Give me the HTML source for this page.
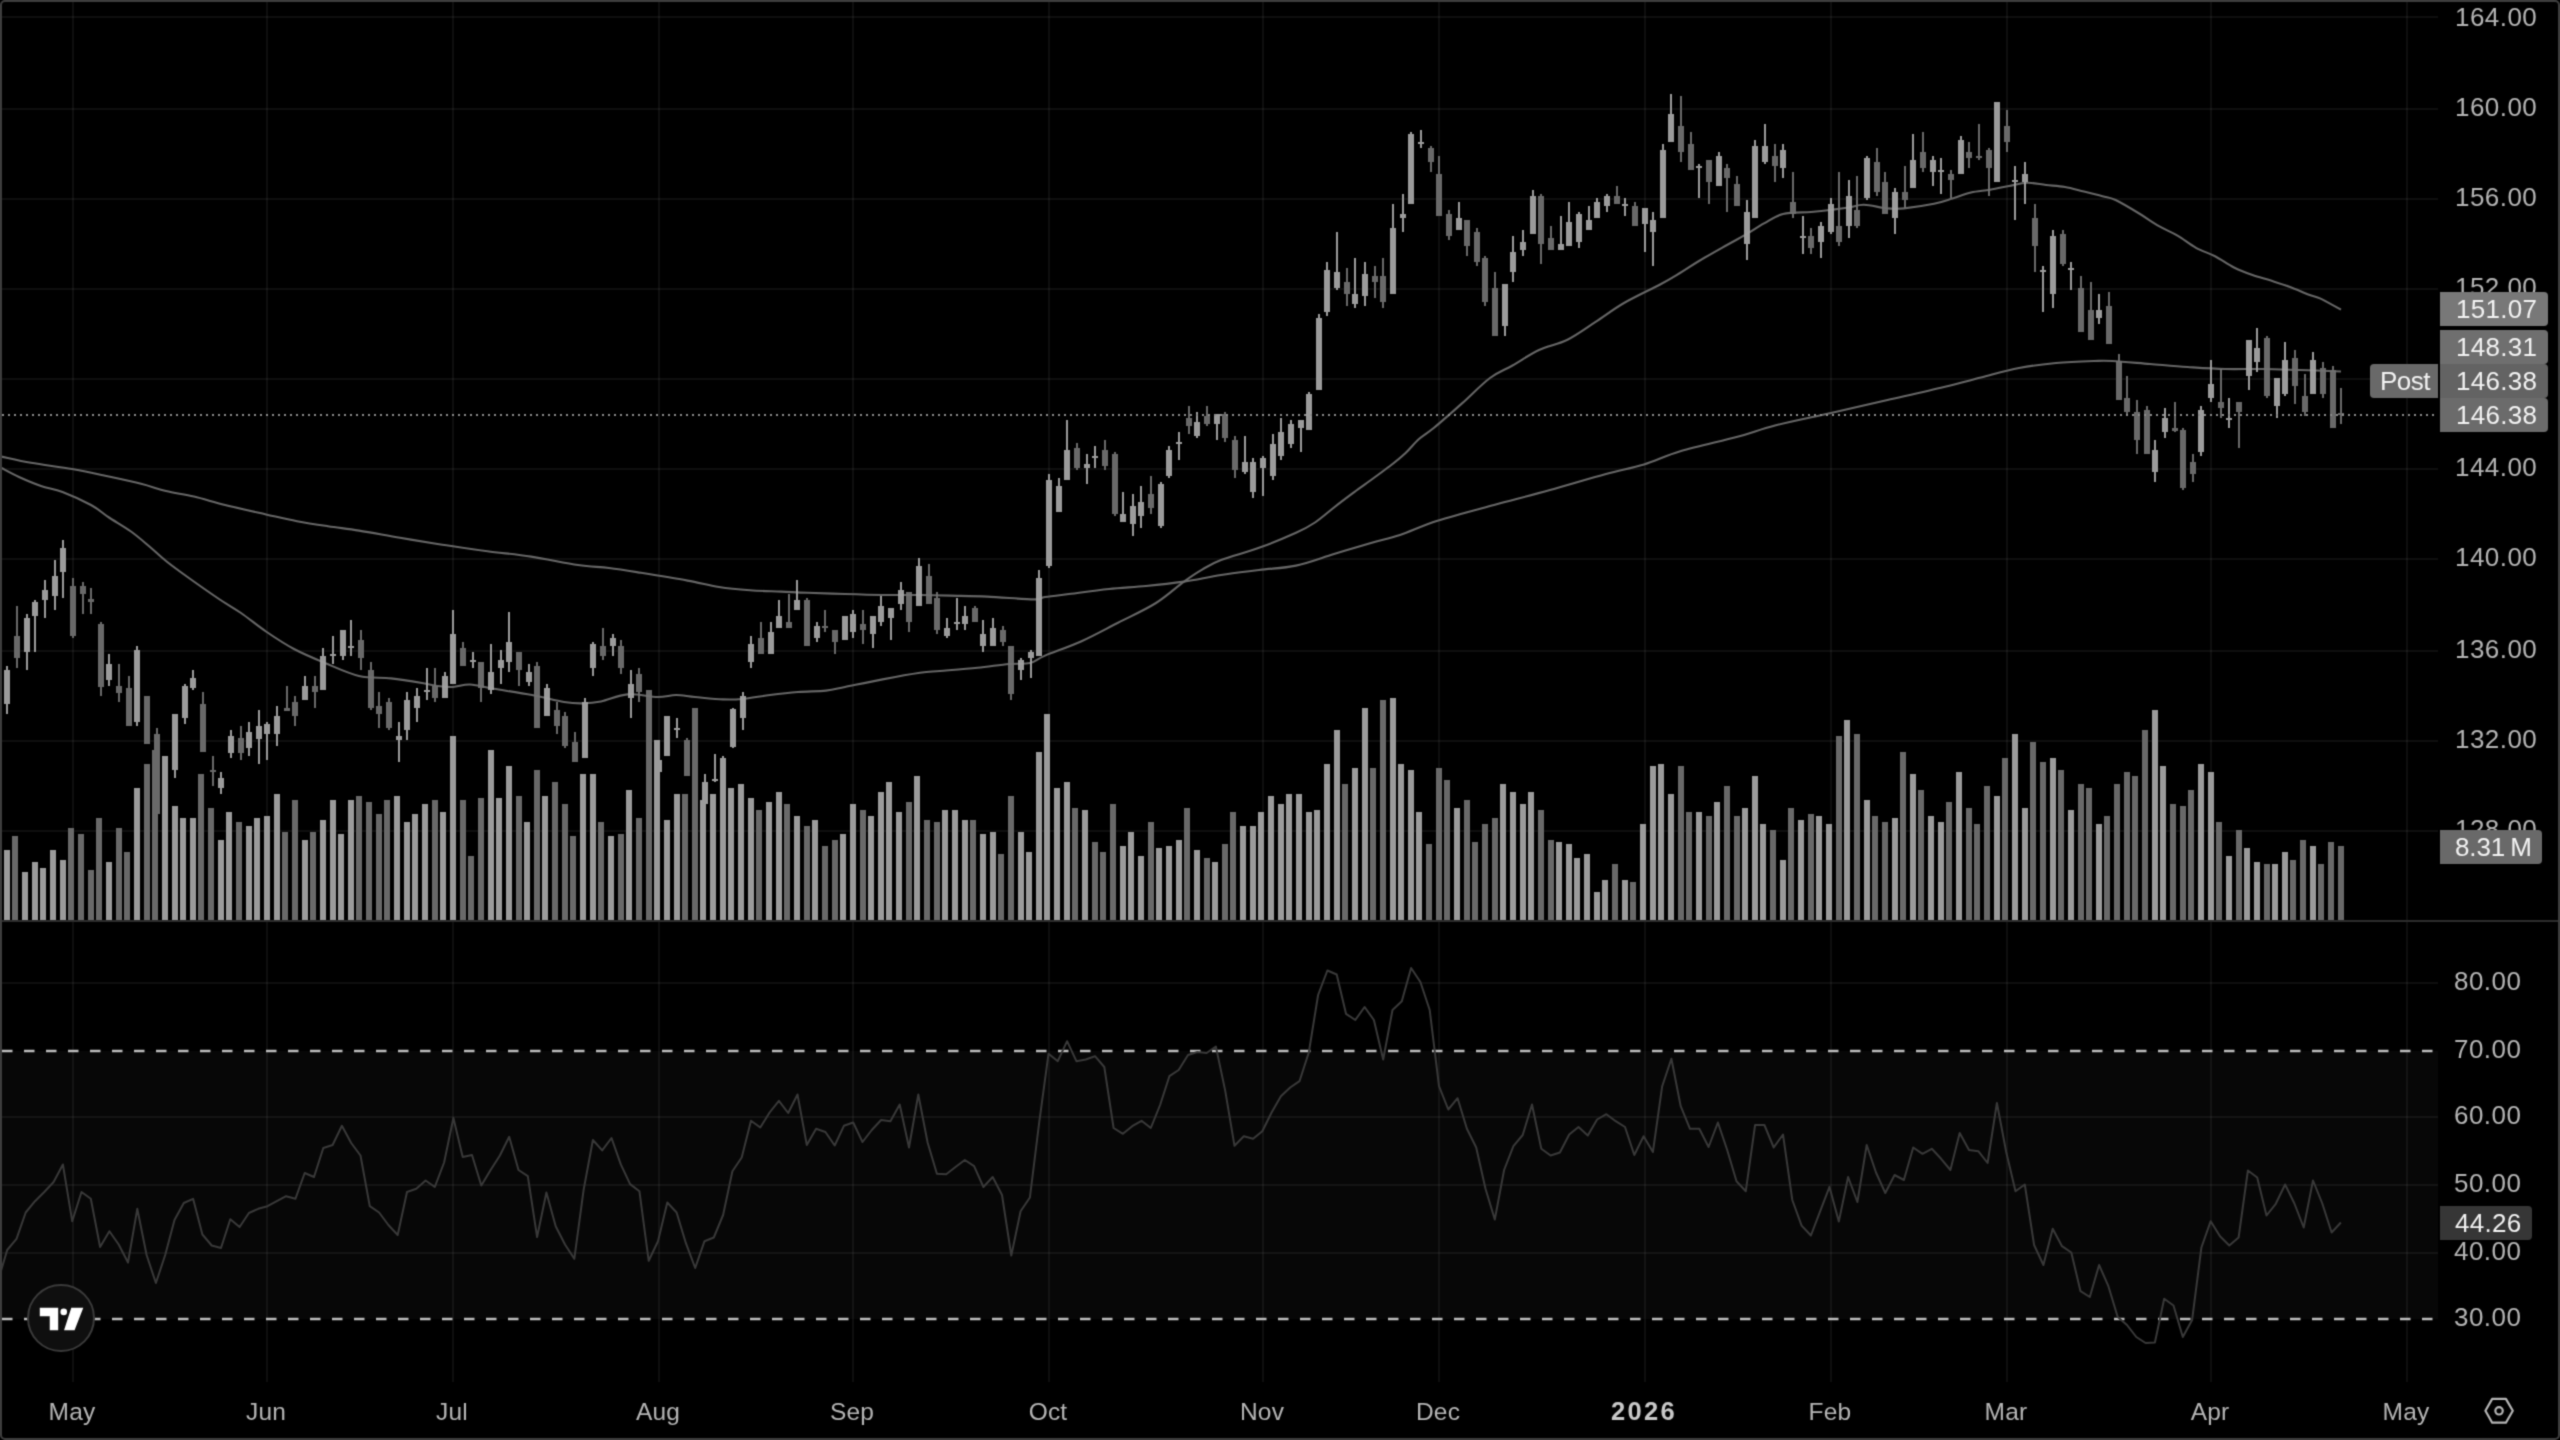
<!DOCTYPE html><html><head><meta charset="utf-8"><style>html,body{margin:0;padding:0;background:#000;width:2560px;height:1440px;overflow:hidden}</style></head><body><svg width="2560" height="1440" viewBox="0 0 2560 1440" style="position:absolute;left:0;top:0;will-change:transform">
<defs><filter id="bl" color-interpolation-filters="sRGB" filterUnits="userSpaceOnUse" x="0" y="0" width="2560" height="1440"><feConvolveMatrix order="3" kernelMatrix="0.0277 0.111 0.0277 0.111 0.445 0.111 0.0277 0.111 0.0277" divisor="1" edgeMode="duplicate" preserveAlpha="false"/></filter></defs>
<rect x="0" y="0" width="2560" height="1440" fill="#000"/>
<g filter="url(#bl)">
<rect x="2" y="1051.0" width="2436" height="268.0" fill="#070707"/>
<g fill="#fff" fill-opacity="0.056" shape-rendering="crispEdges">
<rect x="72" y="2" width="2" height="1380"/>
<rect x="266" y="2" width="2" height="1380"/>
<rect x="452" y="2" width="2" height="1380"/>
<rect x="658" y="2" width="2" height="1380"/>
<rect x="852" y="2" width="2" height="1380"/>
<rect x="1048" y="2" width="2" height="1380"/>
<rect x="1262" y="2" width="2" height="1380"/>
<rect x="1438" y="2" width="2" height="1380"/>
<rect x="1644" y="2" width="2" height="1380"/>
<rect x="1830" y="2" width="2" height="1380"/>
<rect x="2006" y="2" width="2" height="1380"/>
<rect x="2210" y="2" width="2" height="1380"/>
<rect x="2406" y="2" width="2" height="1380"/>
<rect x="2" y="830" width="2436" height="2"/>
<rect x="2" y="740" width="2436" height="2"/>
<rect x="2" y="650" width="2436" height="2"/>
<rect x="2" y="558" width="2436" height="2"/>
<rect x="2" y="468" width="2436" height="2"/>
<rect x="2" y="378" width="2436" height="2"/>
<rect x="2" y="288" width="2436" height="2"/>
<rect x="2" y="198" width="2436" height="2"/>
<rect x="2" y="108" width="2436" height="2"/>
<rect x="2" y="16" width="2436" height="2"/>
<rect x="2" y="982" width="2436" height="2"/>
<rect x="2" y="1116" width="2436" height="2"/>
<rect x="2" y="1184" width="2436" height="2"/>
<rect x="2" y="1252" width="2436" height="2"/>
</g>
<path d="M1.5,456.6 C6.4,457.6 19.2,460.7 31.0,462.8 C42.8,464.9 60.0,466.9 72.0,469.0 C84.0,471.1 91.5,472.8 103.0,475.3 C114.5,477.8 130.5,481.1 141.0,483.8 C151.5,486.4 157.2,488.9 166.0,491.0 C174.8,493.1 184.2,494.3 194.0,496.6 C203.8,498.9 213.0,502.0 225.0,505.0 C237.0,508.0 254.0,511.7 266.0,514.4 C278.0,517.1 286.7,519.3 297.0,521.2 C307.3,523.2 317.7,524.7 328.0,526.2 C338.3,527.8 347.0,528.7 359.0,530.6 C371.0,532.5 386.9,535.6 400.0,537.8 C413.1,540.0 428.7,542.6 437.5,544.0 C446.3,545.4 444.7,545.0 453.0,546.2 C461.3,547.5 474.5,549.5 487.5,551.2 C500.5,553.0 515.9,554.3 531.0,556.6 C546.1,558.9 565.0,563.1 578.0,565.0 C591.0,566.9 598.5,566.7 609.0,568.0 C619.5,569.3 627.9,570.7 641.0,572.8 C654.1,574.9 674.5,578.2 687.5,580.6 C700.5,583.0 708.6,585.4 719.0,587.0 C729.4,588.6 739.7,589.5 750.0,590.3 C760.3,591.1 771.4,591.2 781.0,591.6 C790.6,592.0 796.8,592.4 807.5,592.8 C818.2,593.1 832.5,593.6 845.0,594.0 C857.5,594.4 870.0,594.8 882.5,595.0 C895.0,595.2 908.8,594.9 920.0,595.0 C931.2,595.1 938.8,595.3 950.0,595.6 C961.2,595.9 973.0,596.0 987.0,596.6 C1001.0,597.2 1024.3,599.3 1034.0,599.4 C1043.7,599.5 1038.8,597.9 1045.0,597.0 C1051.2,596.1 1060.3,595.1 1071.0,593.8 C1081.7,592.4 1096.5,590.3 1109.0,589.0 C1121.5,587.7 1133.5,587.2 1146.0,586.0 C1158.5,584.8 1171.5,583.4 1184.0,581.6 C1196.5,579.8 1208.5,576.9 1221.0,575.0 C1233.5,573.1 1246.5,571.6 1259.0,570.0 C1271.5,568.4 1283.5,568.3 1296.0,565.6 C1308.5,562.9 1321.5,557.8 1334.0,554.0 C1346.5,550.2 1360.0,546.2 1371.0,543.0 C1382.0,539.8 1388.9,538.7 1400.0,535.0 C1411.1,531.3 1421.8,525.8 1437.5,520.8 C1453.2,515.8 1475.2,510.1 1494.0,505.0 C1512.8,499.9 1531.3,495.2 1550.0,490.0 C1568.7,484.8 1590.3,478.2 1606.0,474.0 C1621.7,469.8 1631.5,468.3 1644.0,464.5 C1656.5,460.7 1665.4,455.6 1681.0,451.0 C1696.6,446.4 1721.8,441.0 1737.5,436.8 C1753.2,432.5 1759.4,429.5 1775.0,425.5 C1790.6,421.5 1812.2,417.2 1831.0,413.0 C1849.8,408.8 1868.7,404.3 1887.5,400.0 C1906.3,395.7 1928.4,390.8 1944.0,387.0 C1959.6,383.2 1968.5,380.7 1981.0,377.5 C1993.5,374.3 2006.5,370.4 2019.0,368.0 C2031.5,365.6 2043.5,364.2 2056.0,363.0 C2068.5,361.8 2084.6,361.3 2094.0,361.0 C2103.4,360.7 2103.2,360.5 2112.5,361.0 C2121.8,361.5 2137.5,363.0 2150.0,364.0 C2162.5,365.0 2175.0,366.2 2187.5,367.0 C2200.0,367.8 2212.5,368.7 2225.0,369.0 C2237.5,369.3 2250.0,368.8 2262.5,369.0 C2275.0,369.2 2286.9,369.6 2300.0,370.0 C2313.1,370.4 2334.2,371.2 2341.0,371.5" fill="none" stroke="#5e5e5e" stroke-width="2.1" stroke-linejoin="round"/><path d="M1.5,468.0 C4.4,469.5 12.4,474.0 19.0,477.0 C25.6,480.0 33.8,483.5 41.0,486.0 C48.2,488.5 54.2,488.8 62.5,492.0 C70.8,495.2 83.2,500.8 91.0,505.0 C98.8,509.2 102.3,513.1 109.0,517.5 C115.7,521.9 124.2,526.6 131.0,531.5 C137.8,536.4 144.2,542.1 150.0,547.0 C155.8,551.9 159.8,556.0 166.0,561.0 C172.2,566.0 178.7,570.7 187.5,577.0 C196.3,583.3 210.1,593.0 219.0,599.0 C227.9,605.0 233.2,607.6 241.0,613.0 C248.8,618.4 257.2,625.5 266.0,631.5 C274.8,637.5 284.2,643.8 294.0,649.0 C303.8,654.2 314.2,658.5 325.0,663.0 C335.8,667.5 348.0,673.4 359.0,676.0 C370.0,678.6 380.5,677.2 391.0,678.4 C401.5,679.6 414.2,681.7 422.0,683.0 C429.8,684.3 432.3,685.3 437.5,686.0 C442.7,686.7 447.6,687.2 453.0,687.0 C458.4,686.8 463.2,684.2 470.0,684.5 C476.8,684.8 483.7,687.0 494.0,688.8 C504.3,690.5 520.3,692.8 532.0,695.0 C543.7,697.2 555.6,700.6 564.0,702.0 C572.4,703.4 576.3,703.5 582.5,703.4 C588.7,703.3 593.5,703.0 601.0,701.5 C608.5,700.0 618.1,695.1 627.5,694.4 C636.9,693.6 649.4,696.9 657.5,697.0 C665.6,697.1 669.8,695.0 676.0,695.0 C682.2,695.0 687.2,696.3 695.0,697.0 C702.8,697.7 715.2,699.1 723.0,699.4 C730.8,699.7 734.2,699.7 742.0,699.0 C749.8,698.3 760.7,696.2 770.0,695.0 C779.3,693.8 788.7,692.7 798.0,692.0 C807.3,691.3 818.2,691.4 826.0,690.6 C833.8,689.8 835.6,688.9 845.0,687.0 C854.4,685.1 870.0,681.8 882.5,679.4 C895.0,677.0 910.4,674.2 920.0,672.8 C929.6,671.4 930.4,671.8 940.0,671.0 C949.6,670.2 966.0,669.0 977.5,667.8 C989.0,666.6 1000.2,664.8 1009.0,664.0 C1017.8,663.2 1024.0,664.4 1030.0,663.0 C1036.0,661.6 1036.5,659.2 1045.0,655.6 C1053.5,652.0 1068.8,647.0 1081.0,641.5 C1093.2,636.0 1105.5,629.2 1118.0,622.8 C1130.5,616.4 1145.0,609.9 1156.0,603.0 C1167.0,596.1 1176.2,587.2 1184.0,581.6 C1191.8,576.0 1196.3,573.0 1202.5,569.4 C1208.7,565.8 1211.6,563.6 1221.0,560.0 C1230.4,556.4 1246.5,552.3 1259.0,547.8 C1271.5,543.3 1286.7,537.0 1296.0,532.8 C1305.3,528.6 1308.7,526.7 1315.0,522.5 C1321.3,518.3 1327.8,512.4 1334.0,507.5 C1340.2,502.6 1346.3,498.0 1352.5,493.4 C1358.7,488.8 1364.8,484.6 1371.0,480.0 C1377.2,475.4 1384.2,470.5 1390.0,466.0 C1395.8,461.5 1400.8,457.5 1405.6,453.0 C1410.4,448.5 1414.3,443.2 1419.0,439.0 C1423.7,434.8 1426.8,433.7 1434.0,427.8 C1441.2,421.9 1452.7,411.7 1462.0,403.4 C1471.3,395.1 1481.6,384.3 1490.0,378.0 C1498.4,371.7 1504.3,370.2 1512.5,365.5 C1520.7,360.8 1529.8,354.3 1539.0,350.0 C1548.2,345.7 1558.1,344.4 1567.5,339.7 C1576.9,335.0 1586.2,328.0 1595.6,321.9 C1605.0,315.8 1613.1,309.3 1624.0,303.0 C1634.9,296.7 1651.7,289.0 1661.0,284.0 C1670.3,279.0 1673.7,276.8 1680.0,273.0 C1686.3,269.2 1691.2,265.7 1699.0,261.0 C1706.8,256.3 1719.2,249.4 1727.0,245.0 C1734.8,240.6 1739.4,238.3 1745.6,234.7 C1751.8,231.1 1757.8,226.8 1764.0,223.4 C1770.2,220.0 1775.2,215.9 1783.0,214.0 C1790.8,212.1 1803.2,212.7 1811.0,212.0 C1818.8,211.3 1823.7,210.8 1830.0,210.0 C1836.3,209.2 1843.3,208.4 1849.0,207.5 C1854.7,206.6 1857.7,204.5 1864.0,204.7 C1870.3,204.8 1880.3,207.8 1887.0,208.4 C1893.7,209.0 1896.2,209.2 1904.0,208.4 C1911.8,207.6 1925.9,205.4 1934.0,203.8 C1942.1,202.1 1946.3,200.4 1952.5,198.5 C1958.7,196.6 1964.8,194.0 1971.0,192.5 C1977.2,191.0 1983.7,190.8 1990.0,189.7 C1996.3,188.6 2002.8,187.2 2009.0,186.0 C2015.2,184.8 2021.3,182.9 2027.5,182.8 C2033.7,182.6 2039.8,184.3 2046.0,185.0 C2052.2,185.7 2058.7,185.9 2065.0,187.0 C2071.3,188.1 2077.8,190.1 2084.0,191.6 C2090.2,193.1 2097.2,194.8 2102.5,196.2 C2107.8,197.7 2109.3,197.0 2115.6,200.0 C2121.8,203.0 2132.8,209.6 2140.0,214.0 C2147.2,218.4 2152.8,222.7 2159.0,226.2 C2165.2,229.8 2171.3,232.0 2177.5,235.6 C2183.7,239.2 2189.8,244.4 2196.0,247.8 C2202.2,251.2 2208.7,253.0 2215.0,256.2 C2221.3,259.5 2227.8,264.4 2234.0,267.5 C2240.2,270.6 2246.3,272.8 2252.5,275.0 C2258.7,277.2 2264.8,278.6 2271.0,280.6 C2277.2,282.6 2283.7,284.6 2290.0,287.0 C2296.3,289.4 2304.0,292.8 2309.0,294.7 C2314.0,296.6 2314.7,295.9 2320.0,298.4 C2325.3,300.9 2337.5,307.8 2341.0,309.7" fill="none" stroke="#5e5e5e" stroke-width="2.1" stroke-linejoin="round"/>
<g shape-rendering="crispEdges">
<rect x="4" y="850" width="6" height="70" fill="#9b9b9b"/>
<rect x="12" y="836" width="6" height="84" fill="#696969"/>
<rect x="22" y="872" width="6" height="48" fill="#9b9b9b"/>
<rect x="32" y="862" width="6" height="58" fill="#9b9b9b"/>
<rect x="40" y="868" width="6" height="52" fill="#9b9b9b"/>
<rect x="50" y="850" width="6" height="70" fill="#9b9b9b"/>
<rect x="60" y="860" width="6" height="60" fill="#9b9b9b"/>
<rect x="68" y="828" width="6" height="92" fill="#696969"/>
<rect x="78" y="834" width="6" height="86" fill="#696969"/>
<rect x="88" y="870" width="6" height="50" fill="#696969"/>
<rect x="96" y="818" width="6" height="102" fill="#696969"/>
<rect x="106" y="862" width="6" height="58" fill="#9b9b9b"/>
<rect x="116" y="828" width="6" height="92" fill="#696969"/>
<rect x="124" y="852" width="6" height="68" fill="#696969"/>
<rect x="134" y="788" width="6" height="132" fill="#9b9b9b"/>
<rect x="144" y="764" width="6" height="156" fill="#696969"/>
<rect x="152" y="750" width="6" height="170" fill="#696969"/>
<rect x="162" y="756" width="6" height="164" fill="#9b9b9b"/>
<rect x="172" y="806" width="6" height="114" fill="#9b9b9b"/>
<rect x="180" y="818" width="6" height="102" fill="#9b9b9b"/>
<rect x="190" y="818" width="6" height="102" fill="#9b9b9b"/>
<rect x="198" y="774" width="6" height="146" fill="#696969"/>
<rect x="208" y="808" width="6" height="112" fill="#696969"/>
<rect x="218" y="840" width="6" height="80" fill="#9b9b9b"/>
<rect x="226" y="812" width="6" height="108" fill="#9b9b9b"/>
<rect x="236" y="822" width="6" height="98" fill="#696969"/>
<rect x="246" y="826" width="6" height="94" fill="#9b9b9b"/>
<rect x="254" y="818" width="6" height="102" fill="#9b9b9b"/>
<rect x="264" y="816" width="6" height="104" fill="#9b9b9b"/>
<rect x="274" y="794" width="6" height="126" fill="#9b9b9b"/>
<rect x="282" y="832" width="6" height="88" fill="#696969"/>
<rect x="292" y="800" width="6" height="120" fill="#696969"/>
<rect x="302" y="840" width="6" height="80" fill="#9b9b9b"/>
<rect x="310" y="832" width="6" height="88" fill="#696969"/>
<rect x="320" y="820" width="6" height="100" fill="#9b9b9b"/>
<rect x="330" y="800" width="6" height="120" fill="#9b9b9b"/>
<rect x="338" y="834" width="6" height="86" fill="#9b9b9b"/>
<rect x="348" y="800" width="6" height="120" fill="#9b9b9b"/>
<rect x="356" y="796" width="6" height="124" fill="#696969"/>
<rect x="366" y="802" width="6" height="118" fill="#696969"/>
<rect x="376" y="814" width="6" height="106" fill="#696969"/>
<rect x="384" y="800" width="6" height="120" fill="#696969"/>
<rect x="394" y="796" width="6" height="124" fill="#9b9b9b"/>
<rect x="404" y="822" width="6" height="98" fill="#9b9b9b"/>
<rect x="412" y="814" width="6" height="106" fill="#9b9b9b"/>
<rect x="422" y="804" width="6" height="116" fill="#9b9b9b"/>
<rect x="432" y="800" width="6" height="120" fill="#696969"/>
<rect x="440" y="812" width="6" height="108" fill="#9b9b9b"/>
<rect x="450" y="736" width="6" height="184" fill="#9b9b9b"/>
<rect x="460" y="800" width="6" height="120" fill="#696969"/>
<rect x="468" y="856" width="6" height="64" fill="#696969"/>
<rect x="478" y="798" width="6" height="122" fill="#696969"/>
<rect x="488" y="750" width="6" height="170" fill="#9b9b9b"/>
<rect x="496" y="798" width="6" height="122" fill="#9b9b9b"/>
<rect x="506" y="766" width="6" height="154" fill="#9b9b9b"/>
<rect x="516" y="796" width="6" height="124" fill="#696969"/>
<rect x="524" y="822" width="6" height="98" fill="#9b9b9b"/>
<rect x="534" y="770" width="6" height="150" fill="#696969"/>
<rect x="542" y="796" width="6" height="124" fill="#9b9b9b"/>
<rect x="552" y="782" width="6" height="138" fill="#696969"/>
<rect x="562" y="804" width="6" height="116" fill="#696969"/>
<rect x="570" y="836" width="6" height="84" fill="#696969"/>
<rect x="580" y="774" width="6" height="146" fill="#9b9b9b"/>
<rect x="590" y="774" width="6" height="146" fill="#9b9b9b"/>
<rect x="598" y="822" width="6" height="98" fill="#696969"/>
<rect x="608" y="836" width="6" height="84" fill="#9b9b9b"/>
<rect x="618" y="834" width="6" height="86" fill="#696969"/>
<rect x="626" y="790" width="6" height="130" fill="#9b9b9b"/>
<rect x="636" y="818" width="6" height="102" fill="#696969"/>
<rect x="646" y="690" width="6" height="230" fill="#696969"/>
<rect x="654" y="740" width="6" height="180" fill="#9b9b9b"/>
<rect x="664" y="820" width="6" height="100" fill="#9b9b9b"/>
<rect x="674" y="794" width="6" height="126" fill="#9b9b9b"/>
<rect x="682" y="794" width="6" height="126" fill="#696969"/>
<rect x="692" y="708" width="6" height="212" fill="#696969"/>
<rect x="700" y="800" width="6" height="120" fill="#9b9b9b"/>
<rect x="710" y="794" width="6" height="126" fill="#9b9b9b"/>
<rect x="720" y="791" width="6" height="129" fill="#9b9b9b"/>
<rect x="728" y="788" width="6" height="132" fill="#9b9b9b"/>
<rect x="738" y="784" width="6" height="136" fill="#9b9b9b"/>
<rect x="748" y="798" width="6" height="122" fill="#9b9b9b"/>
<rect x="756" y="810" width="6" height="110" fill="#696969"/>
<rect x="766" y="802" width="6" height="118" fill="#9b9b9b"/>
<rect x="776" y="792" width="6" height="128" fill="#9b9b9b"/>
<rect x="784" y="804" width="6" height="116" fill="#696969"/>
<rect x="794" y="816" width="6" height="104" fill="#9b9b9b"/>
<rect x="804" y="826" width="6" height="94" fill="#696969"/>
<rect x="812" y="820" width="6" height="100" fill="#9b9b9b"/>
<rect x="822" y="846" width="6" height="74" fill="#696969"/>
<rect x="832" y="840" width="6" height="80" fill="#696969"/>
<rect x="840" y="834" width="6" height="86" fill="#9b9b9b"/>
<rect x="850" y="804" width="6" height="116" fill="#9b9b9b"/>
<rect x="860" y="810" width="6" height="110" fill="#696969"/>
<rect x="868" y="816" width="6" height="104" fill="#9b9b9b"/>
<rect x="878" y="792" width="6" height="128" fill="#9b9b9b"/>
<rect x="886" y="782" width="6" height="138" fill="#9b9b9b"/>
<rect x="896" y="812" width="6" height="108" fill="#9b9b9b"/>
<rect x="906" y="802" width="6" height="118" fill="#696969"/>
<rect x="914" y="776" width="6" height="144" fill="#9b9b9b"/>
<rect x="924" y="820" width="6" height="100" fill="#696969"/>
<rect x="934" y="822" width="6" height="98" fill="#696969"/>
<rect x="942" y="810" width="6" height="110" fill="#9b9b9b"/>
<rect x="952" y="810" width="6" height="110" fill="#9b9b9b"/>
<rect x="962" y="820" width="6" height="100" fill="#9b9b9b"/>
<rect x="970" y="820" width="6" height="100" fill="#696969"/>
<rect x="980" y="834" width="6" height="86" fill="#9b9b9b"/>
<rect x="990" y="832" width="6" height="88" fill="#9b9b9b"/>
<rect x="998" y="854" width="6" height="66" fill="#696969"/>
<rect x="1008" y="796" width="6" height="124" fill="#696969"/>
<rect x="1018" y="832" width="6" height="88" fill="#9b9b9b"/>
<rect x="1026" y="852" width="6" height="68" fill="#9b9b9b"/>
<rect x="1036" y="752" width="6" height="168" fill="#9b9b9b"/>
<rect x="1044" y="714" width="6" height="206" fill="#9b9b9b"/>
<rect x="1054" y="788" width="6" height="132" fill="#9b9b9b"/>
<rect x="1064" y="782" width="6" height="138" fill="#9b9b9b"/>
<rect x="1072" y="808" width="6" height="112" fill="#696969"/>
<rect x="1082" y="810" width="6" height="110" fill="#9b9b9b"/>
<rect x="1092" y="842" width="6" height="78" fill="#696969"/>
<rect x="1100" y="852" width="6" height="68" fill="#696969"/>
<rect x="1110" y="804" width="6" height="116" fill="#696969"/>
<rect x="1120" y="846" width="6" height="74" fill="#9b9b9b"/>
<rect x="1128" y="832" width="6" height="88" fill="#9b9b9b"/>
<rect x="1138" y="856" width="6" height="64" fill="#9b9b9b"/>
<rect x="1148" y="822" width="6" height="98" fill="#696969"/>
<rect x="1156" y="848" width="6" height="72" fill="#9b9b9b"/>
<rect x="1166" y="846" width="6" height="74" fill="#9b9b9b"/>
<rect x="1176" y="840" width="6" height="80" fill="#9b9b9b"/>
<rect x="1184" y="808" width="6" height="112" fill="#696969"/>
<rect x="1194" y="850" width="6" height="70" fill="#9b9b9b"/>
<rect x="1204" y="858" width="6" height="62" fill="#696969"/>
<rect x="1212" y="862" width="6" height="58" fill="#9b9b9b"/>
<rect x="1222" y="844" width="6" height="76" fill="#696969"/>
<rect x="1230" y="812" width="6" height="108" fill="#696969"/>
<rect x="1240" y="826" width="6" height="94" fill="#9b9b9b"/>
<rect x="1250" y="826" width="6" height="94" fill="#9b9b9b"/>
<rect x="1258" y="812" width="6" height="108" fill="#9b9b9b"/>
<rect x="1268" y="796" width="6" height="124" fill="#9b9b9b"/>
<rect x="1278" y="804" width="6" height="116" fill="#9b9b9b"/>
<rect x="1286" y="794" width="6" height="126" fill="#9b9b9b"/>
<rect x="1296" y="794" width="6" height="126" fill="#9b9b9b"/>
<rect x="1306" y="812" width="6" height="108" fill="#9b9b9b"/>
<rect x="1314" y="810" width="6" height="110" fill="#9b9b9b"/>
<rect x="1324" y="764" width="6" height="156" fill="#9b9b9b"/>
<rect x="1334" y="730" width="6" height="190" fill="#9b9b9b"/>
<rect x="1342" y="784" width="6" height="136" fill="#696969"/>
<rect x="1352" y="768" width="6" height="152" fill="#9b9b9b"/>
<rect x="1362" y="708" width="6" height="212" fill="#9b9b9b"/>
<rect x="1370" y="768" width="6" height="152" fill="#696969"/>
<rect x="1380" y="700" width="6" height="220" fill="#696969"/>
<rect x="1390" y="698" width="6" height="222" fill="#9b9b9b"/>
<rect x="1398" y="764" width="6" height="156" fill="#9b9b9b"/>
<rect x="1408" y="770" width="6" height="150" fill="#9b9b9b"/>
<rect x="1416" y="812" width="6" height="108" fill="#9b9b9b"/>
<rect x="1426" y="844" width="6" height="76" fill="#696969"/>
<rect x="1436" y="768" width="6" height="152" fill="#696969"/>
<rect x="1444" y="780" width="6" height="140" fill="#696969"/>
<rect x="1454" y="808" width="6" height="112" fill="#9b9b9b"/>
<rect x="1464" y="800" width="6" height="120" fill="#696969"/>
<rect x="1472" y="842" width="6" height="78" fill="#696969"/>
<rect x="1482" y="824" width="6" height="96" fill="#696969"/>
<rect x="1492" y="818" width="6" height="102" fill="#696969"/>
<rect x="1500" y="784" width="6" height="136" fill="#9b9b9b"/>
<rect x="1510" y="792" width="6" height="128" fill="#9b9b9b"/>
<rect x="1520" y="804" width="6" height="116" fill="#9b9b9b"/>
<rect x="1528" y="792" width="6" height="128" fill="#9b9b9b"/>
<rect x="1538" y="810" width="6" height="110" fill="#696969"/>
<rect x="1548" y="840" width="6" height="80" fill="#696969"/>
<rect x="1556" y="842" width="6" height="78" fill="#9b9b9b"/>
<rect x="1566" y="844" width="6" height="76" fill="#9b9b9b"/>
<rect x="1574" y="858" width="6" height="62" fill="#9b9b9b"/>
<rect x="1584" y="854" width="6" height="66" fill="#9b9b9b"/>
<rect x="1594" y="892" width="6" height="28" fill="#9b9b9b"/>
<rect x="1602" y="880" width="6" height="40" fill="#9b9b9b"/>
<rect x="1612" y="864" width="6" height="56" fill="#696969"/>
<rect x="1622" y="880" width="6" height="40" fill="#9b9b9b"/>
<rect x="1630" y="882" width="6" height="38" fill="#696969"/>
<rect x="1640" y="824" width="6" height="96" fill="#9b9b9b"/>
<rect x="1650" y="766" width="6" height="154" fill="#9b9b9b"/>
<rect x="1658" y="764" width="6" height="156" fill="#9b9b9b"/>
<rect x="1668" y="794" width="6" height="126" fill="#9b9b9b"/>
<rect x="1678" y="766" width="6" height="154" fill="#696969"/>
<rect x="1686" y="812" width="6" height="108" fill="#696969"/>
<rect x="1696" y="812" width="6" height="108" fill="#9b9b9b"/>
<rect x="1706" y="816" width="6" height="104" fill="#696969"/>
<rect x="1714" y="802" width="6" height="118" fill="#9b9b9b"/>
<rect x="1724" y="786" width="6" height="134" fill="#696969"/>
<rect x="1734" y="816" width="6" height="104" fill="#696969"/>
<rect x="1742" y="808" width="6" height="112" fill="#9b9b9b"/>
<rect x="1752" y="776" width="6" height="144" fill="#9b9b9b"/>
<rect x="1760" y="824" width="6" height="96" fill="#9b9b9b"/>
<rect x="1770" y="830" width="6" height="90" fill="#696969"/>
<rect x="1780" y="860" width="6" height="60" fill="#9b9b9b"/>
<rect x="1788" y="808" width="6" height="112" fill="#696969"/>
<rect x="1798" y="820" width="6" height="100" fill="#9b9b9b"/>
<rect x="1808" y="814" width="6" height="106" fill="#696969"/>
<rect x="1816" y="816" width="6" height="104" fill="#9b9b9b"/>
<rect x="1826" y="824" width="6" height="96" fill="#9b9b9b"/>
<rect x="1836" y="736" width="6" height="184" fill="#696969"/>
<rect x="1844" y="720" width="6" height="200" fill="#9b9b9b"/>
<rect x="1854" y="734" width="6" height="186" fill="#696969"/>
<rect x="1864" y="800" width="6" height="120" fill="#9b9b9b"/>
<rect x="1872" y="816" width="6" height="104" fill="#696969"/>
<rect x="1882" y="822" width="6" height="98" fill="#696969"/>
<rect x="1892" y="818" width="6" height="102" fill="#9b9b9b"/>
<rect x="1900" y="752" width="6" height="168" fill="#696969"/>
<rect x="1910" y="774" width="6" height="146" fill="#9b9b9b"/>
<rect x="1918" y="790" width="6" height="130" fill="#696969"/>
<rect x="1928" y="816" width="6" height="104" fill="#9b9b9b"/>
<rect x="1938" y="822" width="6" height="98" fill="#9b9b9b"/>
<rect x="1946" y="802" width="6" height="118" fill="#696969"/>
<rect x="1956" y="772" width="6" height="148" fill="#9b9b9b"/>
<rect x="1966" y="808" width="6" height="112" fill="#696969"/>
<rect x="1974" y="824" width="6" height="96" fill="#696969"/>
<rect x="1984" y="786" width="6" height="134" fill="#696969"/>
<rect x="1994" y="796" width="6" height="124" fill="#9b9b9b"/>
<rect x="2002" y="758" width="6" height="162" fill="#696969"/>
<rect x="2012" y="734" width="6" height="186" fill="#9b9b9b"/>
<rect x="2022" y="808" width="6" height="112" fill="#9b9b9b"/>
<rect x="2030" y="742" width="6" height="178" fill="#696969"/>
<rect x="2040" y="762" width="6" height="158" fill="#696969"/>
<rect x="2050" y="758" width="6" height="162" fill="#9b9b9b"/>
<rect x="2058" y="770" width="6" height="150" fill="#696969"/>
<rect x="2068" y="810" width="6" height="110" fill="#9b9b9b"/>
<rect x="2078" y="784" width="6" height="136" fill="#696969"/>
<rect x="2086" y="788" width="6" height="132" fill="#696969"/>
<rect x="2096" y="824" width="6" height="96" fill="#9b9b9b"/>
<rect x="2104" y="816" width="6" height="104" fill="#696969"/>
<rect x="2114" y="784" width="6" height="136" fill="#696969"/>
<rect x="2124" y="772" width="6" height="148" fill="#696969"/>
<rect x="2132" y="776" width="6" height="144" fill="#696969"/>
<rect x="2142" y="730" width="6" height="190" fill="#696969"/>
<rect x="2152" y="710" width="6" height="210" fill="#9b9b9b"/>
<rect x="2160" y="766" width="6" height="154" fill="#9b9b9b"/>
<rect x="2170" y="804" width="6" height="116" fill="#696969"/>
<rect x="2180" y="806" width="6" height="114" fill="#696969"/>
<rect x="2188" y="790" width="6" height="130" fill="#696969"/>
<rect x="2198" y="764" width="6" height="156" fill="#9b9b9b"/>
<rect x="2208" y="772" width="6" height="148" fill="#9b9b9b"/>
<rect x="2216" y="822" width="6" height="98" fill="#696969"/>
<rect x="2226" y="856" width="6" height="64" fill="#9b9b9b"/>
<rect x="2236" y="830" width="6" height="90" fill="#696969"/>
<rect x="2244" y="848" width="6" height="72" fill="#9b9b9b"/>
<rect x="2254" y="862" width="6" height="58" fill="#9b9b9b"/>
<rect x="2264" y="864" width="6" height="56" fill="#696969"/>
<rect x="2272" y="864" width="6" height="56" fill="#9b9b9b"/>
<rect x="2282" y="852" width="6" height="68" fill="#9b9b9b"/>
<rect x="2290" y="860" width="6" height="60" fill="#696969"/>
<rect x="2300" y="840" width="6" height="80" fill="#696969"/>
<rect x="2310" y="846" width="6" height="74" fill="#9b9b9b"/>
<rect x="2318" y="864" width="6" height="56" fill="#696969"/>
<rect x="2328" y="842" width="6" height="78" fill="#696969"/>
<rect x="2338" y="846" width="6" height="74" fill="#696969"/>
</g>
<g shape-rendering="crispEdges">
<rect x="6" y="666" width="2" height="48" fill="#9b9b9b"/><rect x="4" y="670" width="6" height="34" fill="#9b9b9b"/>
<rect x="16" y="606" width="2" height="62" fill="#696969"/><rect x="14" y="636" width="6" height="22" fill="#696969"/>
<rect x="26" y="614" width="2" height="56" fill="#9b9b9b"/><rect x="24" y="618" width="6" height="34" fill="#9b9b9b"/>
<rect x="34" y="600" width="2" height="52" fill="#9b9b9b"/><rect x="32" y="602" width="6" height="14" fill="#9b9b9b"/>
<rect x="44" y="580" width="2" height="38" fill="#9b9b9b"/><rect x="42" y="590" width="6" height="10" fill="#9b9b9b"/>
<rect x="54" y="560" width="2" height="50" fill="#9b9b9b"/><rect x="52" y="576" width="6" height="20" fill="#9b9b9b"/>
<rect x="62" y="540" width="2" height="58" fill="#9b9b9b"/><rect x="60" y="548" width="6" height="24" fill="#9b9b9b"/>
<rect x="72" y="578" width="2" height="60" fill="#696969"/><rect x="70" y="586" width="6" height="50" fill="#696969"/>
<rect x="82" y="582" width="2" height="32" fill="#696969"/><rect x="80" y="586" width="6" height="8" fill="#696969"/>
<rect x="90" y="588" width="2" height="26" fill="#696969"/><rect x="88" y="599" width="6" height="3" fill="#696969"/>
<rect x="100" y="622" width="2" height="74" fill="#696969"/><rect x="98" y="624" width="6" height="63" fill="#696969"/>
<rect x="108" y="654" width="2" height="32" fill="#9b9b9b"/><rect x="106" y="664" width="6" height="16" fill="#9b9b9b"/>
<rect x="118" y="664" width="2" height="38" fill="#696969"/><rect x="116" y="686" width="6" height="7" fill="#696969"/>
<rect x="128" y="676" width="2" height="50" fill="#696969"/><rect x="126" y="688" width="6" height="38" fill="#696969"/>
<rect x="136" y="646" width="2" height="80" fill="#9b9b9b"/><rect x="134" y="650" width="6" height="72" fill="#9b9b9b"/>
<rect x="146" y="696" width="2" height="48" fill="#696969"/><rect x="144" y="696" width="6" height="48" fill="#696969"/>
<rect x="156" y="728" width="2" height="86" fill="#696969"/><rect x="154" y="734" width="6" height="80" fill="#696969"/>
<rect x="164" y="801" width="2" height="15" fill="#9b9b9b"/><rect x="162" y="805" width="6" height="7" fill="#9b9b9b"/>
<rect x="174" y="714" width="2" height="64" fill="#9b9b9b"/><rect x="172" y="714" width="6" height="56" fill="#9b9b9b"/>
<rect x="184" y="684" width="2" height="40" fill="#9b9b9b"/><rect x="182" y="686" width="6" height="32" fill="#9b9b9b"/>
<rect x="192" y="670" width="2" height="20" fill="#9b9b9b"/><rect x="190" y="678" width="6" height="10" fill="#9b9b9b"/>
<rect x="202" y="692" width="2" height="60" fill="#696969"/><rect x="200" y="704" width="6" height="48" fill="#696969"/>
<rect x="212" y="756" width="2" height="30" fill="#696969"/><rect x="210" y="770" width="6" height="2" fill="#696969"/>
<rect x="220" y="772" width="2" height="22" fill="#9b9b9b"/><rect x="218" y="778" width="6" height="10" fill="#9b9b9b"/>
<rect x="230" y="730" width="2" height="28" fill="#9b9b9b"/><rect x="228" y="736" width="6" height="17" fill="#9b9b9b"/>
<rect x="240" y="726" width="2" height="34" fill="#696969"/><rect x="238" y="738" width="6" height="15" fill="#696969"/>
<rect x="248" y="722" width="2" height="34" fill="#9b9b9b"/><rect x="246" y="732" width="6" height="16" fill="#9b9b9b"/>
<rect x="258" y="710" width="2" height="54" fill="#9b9b9b"/><rect x="256" y="726" width="6" height="13" fill="#9b9b9b"/>
<rect x="266" y="722" width="2" height="38" fill="#9b9b9b"/><rect x="264" y="724" width="6" height="10" fill="#9b9b9b"/>
<rect x="276" y="706" width="2" height="40" fill="#9b9b9b"/><rect x="274" y="716" width="6" height="18" fill="#9b9b9b"/>
<rect x="286" y="686" width="2" height="25" fill="#696969"/><rect x="284" y="708" width="6" height="3" fill="#696969"/>
<rect x="294" y="696" width="2" height="30" fill="#696969"/><rect x="292" y="702" width="6" height="14" fill="#696969"/>
<rect x="304" y="676" width="2" height="24" fill="#9b9b9b"/><rect x="302" y="686" width="6" height="14" fill="#9b9b9b"/>
<rect x="314" y="676" width="2" height="32" fill="#696969"/><rect x="312" y="686" width="6" height="6" fill="#696969"/>
<rect x="322" y="648" width="2" height="42" fill="#9b9b9b"/><rect x="320" y="656" width="6" height="34" fill="#9b9b9b"/>
<rect x="332" y="636" width="2" height="28" fill="#9b9b9b"/><rect x="330" y="654" width="6" height="2" fill="#9b9b9b"/>
<rect x="342" y="630" width="2" height="30" fill="#9b9b9b"/><rect x="340" y="630" width="6" height="26" fill="#9b9b9b"/>
<rect x="350" y="620" width="2" height="36" fill="#9b9b9b"/><rect x="348" y="646" width="6" height="2" fill="#9b9b9b"/>
<rect x="360" y="630" width="2" height="40" fill="#696969"/><rect x="358" y="640" width="6" height="18" fill="#696969"/>
<rect x="370" y="662" width="2" height="48" fill="#696969"/><rect x="368" y="670" width="6" height="38" fill="#696969"/>
<rect x="378" y="692" width="2" height="36" fill="#696969"/><rect x="376" y="706" width="6" height="8" fill="#696969"/>
<rect x="388" y="698" width="2" height="32" fill="#696969"/><rect x="386" y="702" width="6" height="26" fill="#696969"/>
<rect x="398" y="722" width="2" height="40" fill="#9b9b9b"/><rect x="396" y="736" width="6" height="4" fill="#9b9b9b"/>
<rect x="406" y="692" width="2" height="48" fill="#9b9b9b"/><rect x="404" y="700" width="6" height="30" fill="#9b9b9b"/>
<rect x="416" y="688" width="2" height="34" fill="#9b9b9b"/><rect x="414" y="696" width="6" height="12" fill="#9b9b9b"/>
<rect x="426" y="668" width="2" height="32" fill="#9b9b9b"/><rect x="424" y="690" width="6" height="2" fill="#9b9b9b"/>
<rect x="434" y="668" width="2" height="34" fill="#696969"/><rect x="432" y="686" width="6" height="12" fill="#696969"/>
<rect x="444" y="672" width="2" height="26" fill="#9b9b9b"/><rect x="442" y="676" width="6" height="22" fill="#9b9b9b"/>
<rect x="452" y="610" width="2" height="74" fill="#9b9b9b"/><rect x="450" y="634" width="6" height="50" fill="#9b9b9b"/>
<rect x="462" y="642" width="2" height="24" fill="#696969"/><rect x="460" y="648" width="6" height="18" fill="#696969"/>
<rect x="472" y="652" width="2" height="16" fill="#9b9b9b"/><rect x="470" y="660" width="6" height="2" fill="#9b9b9b"/>
<rect x="480" y="662" width="2" height="40" fill="#696969"/><rect x="478" y="662" width="6" height="26" fill="#696969"/>
<rect x="490" y="644" width="2" height="50" fill="#9b9b9b"/><rect x="488" y="672" width="6" height="18" fill="#9b9b9b"/>
<rect x="500" y="650" width="2" height="34" fill="#9b9b9b"/><rect x="498" y="660" width="6" height="8" fill="#9b9b9b"/>
<rect x="508" y="612" width="2" height="60" fill="#9b9b9b"/><rect x="506" y="642" width="6" height="20" fill="#9b9b9b"/>
<rect x="518" y="652" width="2" height="34" fill="#696969"/><rect x="516" y="652" width="6" height="18" fill="#696969"/>
<rect x="528" y="664" width="2" height="22" fill="#9b9b9b"/><rect x="526" y="672" width="6" height="10" fill="#9b9b9b"/>
<rect x="536" y="662" width="2" height="66" fill="#696969"/><rect x="534" y="666" width="6" height="62" fill="#696969"/>
<rect x="546" y="684" width="2" height="32" fill="#9b9b9b"/><rect x="544" y="688" width="6" height="28" fill="#9b9b9b"/>
<rect x="556" y="702" width="2" height="32" fill="#696969"/><rect x="554" y="710" width="6" height="16" fill="#696969"/>
<rect x="564" y="712" width="2" height="36" fill="#696969"/><rect x="562" y="716" width="6" height="30" fill="#696969"/>
<rect x="574" y="732" width="2" height="30" fill="#696969"/><rect x="572" y="742" width="6" height="20" fill="#696969"/>
<rect x="584" y="698" width="2" height="60" fill="#9b9b9b"/><rect x="582" y="702" width="6" height="56" fill="#9b9b9b"/>
<rect x="592" y="642" width="2" height="34" fill="#9b9b9b"/><rect x="590" y="644" width="6" height="24" fill="#9b9b9b"/>
<rect x="602" y="628" width="2" height="32" fill="#696969"/><rect x="600" y="646" width="6" height="10" fill="#696969"/>
<rect x="612" y="634" width="2" height="22" fill="#9b9b9b"/><rect x="610" y="638" width="6" height="8" fill="#9b9b9b"/>
<rect x="620" y="640" width="2" height="34" fill="#696969"/><rect x="618" y="646" width="6" height="22" fill="#696969"/>
<rect x="630" y="670" width="2" height="48" fill="#9b9b9b"/><rect x="628" y="684" width="6" height="14" fill="#9b9b9b"/>
<rect x="638" y="668" width="2" height="34" fill="#696969"/><rect x="636" y="674" width="6" height="18" fill="#696969"/>
<rect x="648" y="694" width="2" height="76" fill="#696969"/><rect x="646" y="696" width="6" height="74" fill="#696969"/>
<rect x="658" y="758" width="2" height="16" fill="#9b9b9b"/><rect x="656" y="760" width="6" height="12" fill="#9b9b9b"/>
<rect x="666" y="716" width="2" height="40" fill="#9b9b9b"/><rect x="664" y="716" width="6" height="40" fill="#9b9b9b"/>
<rect x="676" y="718" width="2" height="20" fill="#9b9b9b"/><rect x="674" y="728" width="6" height="2" fill="#9b9b9b"/>
<rect x="686" y="738" width="2" height="38" fill="#696969"/><rect x="684" y="740" width="6" height="36" fill="#696969"/>
<rect x="694" y="772" width="2" height="13" fill="#696969"/><rect x="692" y="775" width="6" height="10" fill="#696969"/>
<rect x="704" y="774" width="2" height="30" fill="#9b9b9b"/><rect x="702" y="782" width="6" height="22" fill="#9b9b9b"/>
<rect x="714" y="754" width="2" height="28" fill="#9b9b9b"/><rect x="712" y="779" width="6" height="2" fill="#9b9b9b"/>
<rect x="722" y="756" width="2" height="43" fill="#9b9b9b"/><rect x="720" y="758" width="6" height="41" fill="#9b9b9b"/>
<rect x="732" y="708" width="2" height="40" fill="#9b9b9b"/><rect x="730" y="709" width="6" height="38" fill="#9b9b9b"/>
<rect x="742" y="692" width="2" height="38" fill="#9b9b9b"/><rect x="740" y="696" width="6" height="22" fill="#9b9b9b"/>
<rect x="750" y="636" width="2" height="32" fill="#9b9b9b"/><rect x="748" y="644" width="6" height="18" fill="#9b9b9b"/>
<rect x="760" y="622" width="2" height="32" fill="#696969"/><rect x="758" y="638" width="6" height="16" fill="#696969"/>
<rect x="770" y="622" width="2" height="32" fill="#9b9b9b"/><rect x="768" y="632" width="6" height="22" fill="#9b9b9b"/>
<rect x="778" y="600" width="2" height="28" fill="#9b9b9b"/><rect x="776" y="616" width="6" height="12" fill="#9b9b9b"/>
<rect x="788" y="594" width="2" height="34" fill="#696969"/><rect x="786" y="622" width="6" height="6" fill="#696969"/>
<rect x="796" y="580" width="2" height="30" fill="#9b9b9b"/><rect x="794" y="600" width="6" height="10" fill="#9b9b9b"/>
<rect x="806" y="598" width="2" height="48" fill="#696969"/><rect x="804" y="600" width="6" height="46" fill="#696969"/>
<rect x="816" y="622" width="2" height="20" fill="#9b9b9b"/><rect x="814" y="626" width="6" height="12" fill="#9b9b9b"/>
<rect x="824" y="610" width="2" height="22" fill="#696969"/><rect x="822" y="626" width="6" height="2" fill="#696969"/>
<rect x="834" y="630" width="2" height="24" fill="#696969"/><rect x="832" y="630" width="6" height="12" fill="#696969"/>
<rect x="844" y="616" width="2" height="24" fill="#9b9b9b"/><rect x="842" y="616" width="6" height="24" fill="#9b9b9b"/>
<rect x="852" y="610" width="2" height="28" fill="#9b9b9b"/><rect x="850" y="614" width="6" height="18" fill="#9b9b9b"/>
<rect x="862" y="610" width="2" height="34" fill="#696969"/><rect x="860" y="624" width="6" height="6" fill="#696969"/>
<rect x="872" y="616" width="2" height="32" fill="#9b9b9b"/><rect x="870" y="616" width="6" height="18" fill="#9b9b9b"/>
<rect x="880" y="596" width="2" height="30" fill="#9b9b9b"/><rect x="878" y="606" width="6" height="16" fill="#9b9b9b"/>
<rect x="890" y="608" width="2" height="32" fill="#9b9b9b"/><rect x="888" y="608" width="6" height="10" fill="#9b9b9b"/>
<rect x="900" y="582" width="2" height="28" fill="#9b9b9b"/><rect x="898" y="590" width="6" height="14" fill="#9b9b9b"/>
<rect x="908" y="592" width="2" height="40" fill="#696969"/><rect x="906" y="592" width="6" height="30" fill="#696969"/>
<rect x="918" y="558" width="2" height="48" fill="#9b9b9b"/><rect x="916" y="566" width="6" height="40" fill="#9b9b9b"/>
<rect x="928" y="564" width="2" height="40" fill="#696969"/><rect x="926" y="576" width="6" height="28" fill="#696969"/>
<rect x="936" y="592" width="2" height="42" fill="#696969"/><rect x="934" y="598" width="6" height="32" fill="#696969"/>
<rect x="946" y="618" width="2" height="20" fill="#9b9b9b"/><rect x="944" y="628" width="6" height="8" fill="#9b9b9b"/>
<rect x="956" y="598" width="2" height="32" fill="#9b9b9b"/><rect x="954" y="622" width="6" height="2" fill="#9b9b9b"/>
<rect x="964" y="606" width="2" height="24" fill="#9b9b9b"/><rect x="962" y="616" width="6" height="8" fill="#9b9b9b"/>
<rect x="974" y="606" width="2" height="16" fill="#696969"/><rect x="972" y="608" width="6" height="14" fill="#696969"/>
<rect x="982" y="620" width="2" height="32" fill="#9b9b9b"/><rect x="980" y="634" width="6" height="12" fill="#9b9b9b"/>
<rect x="992" y="618" width="2" height="28" fill="#9b9b9b"/><rect x="990" y="628" width="6" height="18" fill="#9b9b9b"/>
<rect x="1002" y="626" width="2" height="20" fill="#696969"/><rect x="1000" y="630" width="6" height="12" fill="#696969"/>
<rect x="1010" y="646" width="2" height="54" fill="#696969"/><rect x="1008" y="646" width="6" height="48" fill="#696969"/>
<rect x="1020" y="658" width="2" height="22" fill="#9b9b9b"/><rect x="1018" y="660" width="6" height="10" fill="#9b9b9b"/>
<rect x="1030" y="650" width="2" height="28" fill="#9b9b9b"/><rect x="1028" y="652" width="6" height="6" fill="#9b9b9b"/>
<rect x="1038" y="570" width="2" height="86" fill="#9b9b9b"/><rect x="1036" y="578" width="6" height="78" fill="#9b9b9b"/>
<rect x="1048" y="474" width="2" height="94" fill="#9b9b9b"/><rect x="1046" y="480" width="6" height="86" fill="#9b9b9b"/>
<rect x="1058" y="478" width="2" height="34" fill="#9b9b9b"/><rect x="1056" y="486" width="6" height="26" fill="#9b9b9b"/>
<rect x="1066" y="420" width="2" height="60" fill="#9b9b9b"/><rect x="1064" y="450" width="6" height="30" fill="#9b9b9b"/>
<rect x="1076" y="443" width="2" height="27" fill="#696969"/><rect x="1074" y="448" width="6" height="20" fill="#696969"/>
<rect x="1086" y="454" width="2" height="30" fill="#9b9b9b"/><rect x="1084" y="464" width="6" height="4" fill="#9b9b9b"/>
<rect x="1094" y="446" width="2" height="22" fill="#9b9b9b"/><rect x="1092" y="456" width="6" height="2" fill="#9b9b9b"/>
<rect x="1104" y="440" width="2" height="30" fill="#696969"/><rect x="1102" y="450" width="6" height="16" fill="#696969"/>
<rect x="1114" y="452" width="2" height="64" fill="#696969"/><rect x="1112" y="454" width="6" height="60" fill="#696969"/>
<rect x="1122" y="492" width="2" height="30" fill="#9b9b9b"/><rect x="1120" y="514" width="6" height="8" fill="#9b9b9b"/>
<rect x="1132" y="494" width="2" height="42" fill="#9b9b9b"/><rect x="1130" y="506" width="6" height="18" fill="#9b9b9b"/>
<rect x="1140" y="486" width="2" height="42" fill="#9b9b9b"/><rect x="1138" y="502" width="6" height="14" fill="#9b9b9b"/>
<rect x="1150" y="476" width="2" height="38" fill="#696969"/><rect x="1148" y="494" width="6" height="14" fill="#696969"/>
<rect x="1160" y="482" width="2" height="46" fill="#9b9b9b"/><rect x="1158" y="484" width="6" height="42" fill="#9b9b9b"/>
<rect x="1168" y="446" width="2" height="32" fill="#9b9b9b"/><rect x="1166" y="450" width="6" height="26" fill="#9b9b9b"/>
<rect x="1178" y="432" width="2" height="28" fill="#9b9b9b"/><rect x="1176" y="442" width="6" height="2" fill="#9b9b9b"/>
<rect x="1188" y="406" width="2" height="28" fill="#696969"/><rect x="1186" y="418" width="6" height="8" fill="#696969"/>
<rect x="1196" y="412" width="2" height="26" fill="#9b9b9b"/><rect x="1194" y="422" width="6" height="14" fill="#9b9b9b"/>
<rect x="1206" y="406" width="2" height="20" fill="#696969"/><rect x="1204" y="416" width="6" height="8" fill="#696969"/>
<rect x="1216" y="414" width="2" height="26" fill="#9b9b9b"/><rect x="1214" y="414" width="6" height="10" fill="#9b9b9b"/>
<rect x="1224" y="412" width="2" height="30" fill="#696969"/><rect x="1222" y="414" width="6" height="24" fill="#696969"/>
<rect x="1234" y="436" width="2" height="42" fill="#696969"/><rect x="1232" y="440" width="6" height="30" fill="#696969"/>
<rect x="1244" y="436" width="2" height="38" fill="#9b9b9b"/><rect x="1242" y="462" width="6" height="10" fill="#9b9b9b"/>
<rect x="1252" y="458" width="2" height="40" fill="#9b9b9b"/><rect x="1250" y="462" width="6" height="30" fill="#9b9b9b"/>
<rect x="1262" y="456" width="2" height="40" fill="#9b9b9b"/><rect x="1260" y="458" width="6" height="10" fill="#9b9b9b"/>
<rect x="1272" y="434" width="2" height="46" fill="#9b9b9b"/><rect x="1270" y="444" width="6" height="32" fill="#9b9b9b"/>
<rect x="1280" y="418" width="2" height="42" fill="#9b9b9b"/><rect x="1278" y="432" width="6" height="24" fill="#9b9b9b"/>
<rect x="1290" y="420" width="2" height="28" fill="#9b9b9b"/><rect x="1288" y="424" width="6" height="20" fill="#9b9b9b"/>
<rect x="1300" y="420" width="2" height="32" fill="#9b9b9b"/><rect x="1298" y="420" width="6" height="8" fill="#9b9b9b"/>
<rect x="1308" y="392" width="2" height="38" fill="#9b9b9b"/><rect x="1306" y="394" width="6" height="36" fill="#9b9b9b"/>
<rect x="1318" y="314" width="2" height="76" fill="#9b9b9b"/><rect x="1316" y="318" width="6" height="72" fill="#9b9b9b"/>
<rect x="1326" y="262" width="2" height="54" fill="#9b9b9b"/><rect x="1324" y="270" width="6" height="42" fill="#9b9b9b"/>
<rect x="1336" y="232" width="2" height="58" fill="#9b9b9b"/><rect x="1334" y="272" width="6" height="16" fill="#9b9b9b"/>
<rect x="1346" y="268" width="2" height="38" fill="#696969"/><rect x="1344" y="282" width="6" height="12" fill="#696969"/>
<rect x="1354" y="258" width="2" height="50" fill="#9b9b9b"/><rect x="1352" y="294" width="6" height="10" fill="#9b9b9b"/>
<rect x="1364" y="262" width="2" height="44" fill="#9b9b9b"/><rect x="1362" y="274" width="6" height="22" fill="#9b9b9b"/>
<rect x="1374" y="266" width="2" height="32" fill="#696969"/><rect x="1372" y="276" width="6" height="6" fill="#696969"/>
<rect x="1382" y="258" width="2" height="50" fill="#696969"/><rect x="1380" y="276" width="6" height="26" fill="#696969"/>
<rect x="1392" y="204" width="2" height="90" fill="#9b9b9b"/><rect x="1390" y="228" width="6" height="66" fill="#9b9b9b"/>
<rect x="1402" y="194" width="2" height="38" fill="#9b9b9b"/><rect x="1400" y="214" width="6" height="4" fill="#9b9b9b"/>
<rect x="1410" y="132" width="2" height="72" fill="#9b9b9b"/><rect x="1408" y="134" width="6" height="70" fill="#9b9b9b"/>
<rect x="1420" y="130" width="2" height="18" fill="#9b9b9b"/><rect x="1418" y="142" width="6" height="2" fill="#9b9b9b"/>
<rect x="1430" y="146" width="2" height="26" fill="#696969"/><rect x="1428" y="148" width="6" height="14" fill="#696969"/>
<rect x="1438" y="156" width="2" height="60" fill="#696969"/><rect x="1436" y="174" width="6" height="42" fill="#696969"/>
<rect x="1448" y="210" width="2" height="30" fill="#696969"/><rect x="1446" y="214" width="6" height="22" fill="#696969"/>
<rect x="1458" y="202" width="2" height="28" fill="#9b9b9b"/><rect x="1456" y="218" width="6" height="12" fill="#9b9b9b"/>
<rect x="1466" y="220" width="2" height="36" fill="#696969"/><rect x="1464" y="220" width="6" height="26" fill="#696969"/>
<rect x="1476" y="228" width="2" height="38" fill="#696969"/><rect x="1474" y="232" width="6" height="30" fill="#696969"/>
<rect x="1484" y="256" width="2" height="50" fill="#696969"/><rect x="1482" y="258" width="6" height="44" fill="#696969"/>
<rect x="1494" y="272" width="2" height="64" fill="#696969"/><rect x="1492" y="288" width="6" height="48" fill="#696969"/>
<rect x="1504" y="284" width="2" height="52" fill="#9b9b9b"/><rect x="1502" y="284" width="6" height="42" fill="#9b9b9b"/>
<rect x="1512" y="236" width="2" height="46" fill="#9b9b9b"/><rect x="1510" y="252" width="6" height="20" fill="#9b9b9b"/>
<rect x="1522" y="230" width="2" height="26" fill="#9b9b9b"/><rect x="1520" y="242" width="6" height="8" fill="#9b9b9b"/>
<rect x="1532" y="190" width="2" height="44" fill="#9b9b9b"/><rect x="1530" y="196" width="6" height="38" fill="#9b9b9b"/>
<rect x="1540" y="194" width="2" height="70" fill="#696969"/><rect x="1538" y="196" width="6" height="48" fill="#696969"/>
<rect x="1550" y="226" width="2" height="24" fill="#696969"/><rect x="1548" y="238" width="6" height="12" fill="#696969"/>
<rect x="1560" y="216" width="2" height="34" fill="#9b9b9b"/><rect x="1558" y="244" width="6" height="6" fill="#9b9b9b"/>
<rect x="1568" y="202" width="2" height="44" fill="#9b9b9b"/><rect x="1566" y="222" width="6" height="24" fill="#9b9b9b"/>
<rect x="1578" y="212" width="2" height="36" fill="#9b9b9b"/><rect x="1576" y="214" width="6" height="28" fill="#9b9b9b"/>
<rect x="1588" y="206" width="2" height="24" fill="#9b9b9b"/><rect x="1586" y="220" width="6" height="10" fill="#9b9b9b"/>
<rect x="1596" y="198" width="2" height="20" fill="#9b9b9b"/><rect x="1594" y="202" width="6" height="16" fill="#9b9b9b"/>
<rect x="1606" y="194" width="2" height="18" fill="#9b9b9b"/><rect x="1604" y="196" width="6" height="10" fill="#9b9b9b"/>
<rect x="1616" y="186" width="2" height="18" fill="#696969"/><rect x="1614" y="196" width="6" height="8" fill="#696969"/>
<rect x="1624" y="198" width="2" height="18" fill="#9b9b9b"/><rect x="1622" y="204" width="6" height="2" fill="#9b9b9b"/>
<rect x="1634" y="202" width="2" height="24" fill="#696969"/><rect x="1632" y="206" width="6" height="20" fill="#696969"/>
<rect x="1644" y="208" width="2" height="44" fill="#9b9b9b"/><rect x="1642" y="208" width="6" height="16" fill="#9b9b9b"/>
<rect x="1652" y="212" width="2" height="54" fill="#9b9b9b"/><rect x="1650" y="220" width="6" height="12" fill="#9b9b9b"/>
<rect x="1662" y="144" width="2" height="74" fill="#9b9b9b"/><rect x="1660" y="150" width="6" height="68" fill="#9b9b9b"/>
<rect x="1670" y="94" width="2" height="48" fill="#9b9b9b"/><rect x="1668" y="114" width="6" height="28" fill="#9b9b9b"/>
<rect x="1680" y="96" width="2" height="66" fill="#696969"/><rect x="1678" y="126" width="6" height="26" fill="#696969"/>
<rect x="1690" y="132" width="2" height="38" fill="#696969"/><rect x="1688" y="144" width="6" height="26" fill="#696969"/>
<rect x="1698" y="164" width="2" height="34" fill="#9b9b9b"/><rect x="1696" y="166" width="6" height="2" fill="#9b9b9b"/>
<rect x="1708" y="160" width="2" height="44" fill="#696969"/><rect x="1706" y="160" width="6" height="22" fill="#696969"/>
<rect x="1718" y="152" width="2" height="34" fill="#9b9b9b"/><rect x="1716" y="156" width="6" height="30" fill="#9b9b9b"/>
<rect x="1726" y="164" width="2" height="48" fill="#696969"/><rect x="1724" y="168" width="6" height="10" fill="#696969"/>
<rect x="1736" y="176" width="2" height="30" fill="#696969"/><rect x="1734" y="184" width="6" height="22" fill="#696969"/>
<rect x="1746" y="200" width="2" height="60" fill="#9b9b9b"/><rect x="1744" y="212" width="6" height="32" fill="#9b9b9b"/>
<rect x="1754" y="140" width="2" height="78" fill="#9b9b9b"/><rect x="1752" y="146" width="6" height="72" fill="#9b9b9b"/>
<rect x="1764" y="124" width="2" height="40" fill="#9b9b9b"/><rect x="1762" y="146" width="6" height="16" fill="#9b9b9b"/>
<rect x="1774" y="144" width="2" height="38" fill="#696969"/><rect x="1772" y="156" width="6" height="10" fill="#696969"/>
<rect x="1782" y="144" width="2" height="34" fill="#9b9b9b"/><rect x="1780" y="150" width="6" height="18" fill="#9b9b9b"/>
<rect x="1792" y="172" width="2" height="46" fill="#696969"/><rect x="1790" y="202" width="6" height="12" fill="#696969"/>
<rect x="1802" y="216" width="2" height="38" fill="#9b9b9b"/><rect x="1800" y="236" width="6" height="2" fill="#9b9b9b"/>
<rect x="1810" y="228" width="2" height="26" fill="#696969"/><rect x="1808" y="236" width="6" height="12" fill="#696969"/>
<rect x="1820" y="222" width="2" height="36" fill="#9b9b9b"/><rect x="1818" y="226" width="6" height="16" fill="#9b9b9b"/>
<rect x="1830" y="198" width="2" height="36" fill="#9b9b9b"/><rect x="1828" y="204" width="6" height="28" fill="#9b9b9b"/>
<rect x="1838" y="172" width="2" height="74" fill="#696969"/><rect x="1836" y="226" width="6" height="16" fill="#696969"/>
<rect x="1848" y="180" width="2" height="58" fill="#9b9b9b"/><rect x="1846" y="196" width="6" height="30" fill="#9b9b9b"/>
<rect x="1856" y="176" width="2" height="52" fill="#696969"/><rect x="1854" y="210" width="6" height="16" fill="#696969"/>
<rect x="1866" y="156" width="2" height="44" fill="#9b9b9b"/><rect x="1864" y="158" width="6" height="40" fill="#9b9b9b"/>
<rect x="1876" y="148" width="2" height="48" fill="#696969"/><rect x="1874" y="162" width="6" height="30" fill="#696969"/>
<rect x="1884" y="172" width="2" height="42" fill="#696969"/><rect x="1882" y="182" width="6" height="32" fill="#696969"/>
<rect x="1894" y="188" width="2" height="46" fill="#9b9b9b"/><rect x="1892" y="192" width="6" height="26" fill="#9b9b9b"/>
<rect x="1904" y="166" width="2" height="42" fill="#696969"/><rect x="1902" y="192" width="6" height="8" fill="#696969"/>
<rect x="1912" y="134" width="2" height="54" fill="#9b9b9b"/><rect x="1910" y="160" width="6" height="28" fill="#9b9b9b"/>
<rect x="1922" y="132" width="2" height="40" fill="#696969"/><rect x="1920" y="152" width="6" height="16" fill="#696969"/>
<rect x="1932" y="156" width="2" height="30" fill="#9b9b9b"/><rect x="1930" y="160" width="6" height="12" fill="#9b9b9b"/>
<rect x="1940" y="158" width="2" height="36" fill="#9b9b9b"/><rect x="1938" y="170" width="6" height="2" fill="#9b9b9b"/>
<rect x="1950" y="170" width="2" height="28" fill="#696969"/><rect x="1948" y="174" width="6" height="6" fill="#696969"/>
<rect x="1960" y="136" width="2" height="38" fill="#9b9b9b"/><rect x="1958" y="140" width="6" height="34" fill="#9b9b9b"/>
<rect x="1968" y="142" width="2" height="26" fill="#696969"/><rect x="1966" y="152" width="6" height="6" fill="#696969"/>
<rect x="1978" y="124" width="2" height="36" fill="#696969"/><rect x="1976" y="156" width="6" height="2" fill="#696969"/>
<rect x="1988" y="148" width="2" height="48" fill="#696969"/><rect x="1986" y="150" width="6" height="18" fill="#696969"/>
<rect x="1996" y="102" width="2" height="80" fill="#9b9b9b"/><rect x="1994" y="102" width="6" height="80" fill="#9b9b9b"/>
<rect x="2006" y="110" width="2" height="42" fill="#696969"/><rect x="2004" y="126" width="6" height="16" fill="#696969"/>
<rect x="2014" y="166" width="2" height="54" fill="#9b9b9b"/><rect x="2012" y="180" width="6" height="2" fill="#9b9b9b"/>
<rect x="2024" y="162" width="2" height="42" fill="#9b9b9b"/><rect x="2022" y="174" width="6" height="8" fill="#9b9b9b"/>
<rect x="2034" y="204" width="2" height="68" fill="#696969"/><rect x="2032" y="218" width="6" height="28" fill="#696969"/>
<rect x="2042" y="266" width="2" height="46" fill="#9b9b9b"/><rect x="2040" y="270" width="6" height="2" fill="#9b9b9b"/>
<rect x="2052" y="230" width="2" height="78" fill="#9b9b9b"/><rect x="2050" y="236" width="6" height="58" fill="#9b9b9b"/>
<rect x="2062" y="230" width="2" height="36" fill="#696969"/><rect x="2060" y="234" width="6" height="30" fill="#696969"/>
<rect x="2070" y="262" width="2" height="28" fill="#9b9b9b"/><rect x="2068" y="268" width="6" height="2" fill="#9b9b9b"/>
<rect x="2080" y="276" width="2" height="56" fill="#696969"/><rect x="2078" y="288" width="6" height="44" fill="#696969"/>
<rect x="2090" y="282" width="2" height="58" fill="#696969"/><rect x="2088" y="310" width="6" height="30" fill="#696969"/>
<rect x="2098" y="294" width="2" height="30" fill="#9b9b9b"/><rect x="2096" y="310" width="6" height="8" fill="#9b9b9b"/>
<rect x="2108" y="292" width="2" height="52" fill="#696969"/><rect x="2106" y="306" width="6" height="38" fill="#696969"/>
<rect x="2118" y="354" width="2" height="46" fill="#696969"/><rect x="2116" y="361" width="6" height="39" fill="#696969"/>
<rect x="2126" y="376" width="2" height="40" fill="#696969"/><rect x="2124" y="398" width="6" height="14" fill="#696969"/>
<rect x="2136" y="400" width="2" height="54" fill="#696969"/><rect x="2134" y="412" width="6" height="28" fill="#696969"/>
<rect x="2146" y="406" width="2" height="48" fill="#696969"/><rect x="2144" y="410" width="6" height="44" fill="#696969"/>
<rect x="2154" y="440" width="2" height="42" fill="#9b9b9b"/><rect x="2152" y="450" width="6" height="22" fill="#9b9b9b"/>
<rect x="2164" y="408" width="2" height="30" fill="#9b9b9b"/><rect x="2162" y="418" width="6" height="14" fill="#9b9b9b"/>
<rect x="2174" y="402" width="2" height="30" fill="#696969"/><rect x="2172" y="428" width="6" height="3" fill="#696969"/>
<rect x="2182" y="428" width="2" height="62" fill="#696969"/><rect x="2180" y="430" width="6" height="58" fill="#696969"/>
<rect x="2192" y="454" width="2" height="28" fill="#696969"/><rect x="2190" y="462" width="6" height="12" fill="#696969"/>
<rect x="2200" y="406" width="2" height="50" fill="#9b9b9b"/><rect x="2198" y="410" width="6" height="42" fill="#9b9b9b"/>
<rect x="2210" y="360" width="2" height="42" fill="#9b9b9b"/><rect x="2208" y="384" width="6" height="14" fill="#9b9b9b"/>
<rect x="2220" y="369" width="2" height="49" fill="#696969"/><rect x="2218" y="402" width="6" height="6" fill="#696969"/>
<rect x="2228" y="398" width="2" height="30" fill="#9b9b9b"/><rect x="2226" y="418" width="6" height="2" fill="#9b9b9b"/>
<rect x="2238" y="402" width="2" height="46" fill="#696969"/><rect x="2236" y="402" width="6" height="10" fill="#696969"/>
<rect x="2248" y="340" width="2" height="50" fill="#9b9b9b"/><rect x="2246" y="340" width="6" height="36" fill="#9b9b9b"/>
<rect x="2256" y="328" width="2" height="44" fill="#9b9b9b"/><rect x="2254" y="348" width="6" height="14" fill="#9b9b9b"/>
<rect x="2266" y="336" width="2" height="62" fill="#696969"/><rect x="2264" y="338" width="6" height="58" fill="#696969"/>
<rect x="2276" y="378" width="2" height="40" fill="#9b9b9b"/><rect x="2274" y="378" width="6" height="28" fill="#9b9b9b"/>
<rect x="2284" y="342" width="2" height="54" fill="#9b9b9b"/><rect x="2282" y="360" width="6" height="34" fill="#9b9b9b"/>
<rect x="2294" y="350" width="2" height="54" fill="#696969"/><rect x="2292" y="358" width="6" height="28" fill="#696969"/>
<rect x="2304" y="374" width="2" height="42" fill="#696969"/><rect x="2302" y="396" width="6" height="16" fill="#696969"/>
<rect x="2312" y="352" width="2" height="42" fill="#9b9b9b"/><rect x="2310" y="360" width="6" height="34" fill="#9b9b9b"/>
<rect x="2322" y="362" width="2" height="36" fill="#696969"/><rect x="2320" y="368" width="6" height="26" fill="#696969"/>
<rect x="2332" y="366" width="2" height="62" fill="#696969"/><rect x="2330" y="370" width="6" height="58" fill="#696969"/>
<rect x="2340" y="388" width="2" height="36" fill="#696969"/><rect x="2338" y="413" width="6" height="2" fill="#696969"/>
</g>
<path d="M1.5,456.6 C6.4,457.6 19.2,460.7 31.0,462.8 C42.8,464.9 60.0,466.9 72.0,469.0 C84.0,471.1 91.5,472.8 103.0,475.3 C114.5,477.8 130.5,481.1 141.0,483.8 C151.5,486.4 157.2,488.9 166.0,491.0 C174.8,493.1 184.2,494.3 194.0,496.6 C203.8,498.9 213.0,502.0 225.0,505.0 C237.0,508.0 254.0,511.7 266.0,514.4 C278.0,517.1 286.7,519.3 297.0,521.2 C307.3,523.2 317.7,524.7 328.0,526.2 C338.3,527.8 347.0,528.7 359.0,530.6 C371.0,532.5 386.9,535.6 400.0,537.8 C413.1,540.0 428.7,542.6 437.5,544.0 C446.3,545.4 444.7,545.0 453.0,546.2 C461.3,547.5 474.5,549.5 487.5,551.2 C500.5,553.0 515.9,554.3 531.0,556.6 C546.1,558.9 565.0,563.1 578.0,565.0 C591.0,566.9 598.5,566.7 609.0,568.0 C619.5,569.3 627.9,570.7 641.0,572.8 C654.1,574.9 674.5,578.2 687.5,580.6 C700.5,583.0 708.6,585.4 719.0,587.0 C729.4,588.6 739.7,589.5 750.0,590.3 C760.3,591.1 771.4,591.2 781.0,591.6 C790.6,592.0 796.8,592.4 807.5,592.8 C818.2,593.1 832.5,593.6 845.0,594.0 C857.5,594.4 870.0,594.8 882.5,595.0 C895.0,595.2 908.8,594.9 920.0,595.0 C931.2,595.1 938.8,595.3 950.0,595.6 C961.2,595.9 973.0,596.0 987.0,596.6 C1001.0,597.2 1024.3,599.3 1034.0,599.4 C1043.7,599.5 1038.8,597.9 1045.0,597.0 C1051.2,596.1 1060.3,595.1 1071.0,593.8 C1081.7,592.4 1096.5,590.3 1109.0,589.0 C1121.5,587.7 1133.5,587.2 1146.0,586.0 C1158.5,584.8 1171.5,583.4 1184.0,581.6 C1196.5,579.8 1208.5,576.9 1221.0,575.0 C1233.5,573.1 1246.5,571.6 1259.0,570.0 C1271.5,568.4 1283.5,568.3 1296.0,565.6 C1308.5,562.9 1321.5,557.8 1334.0,554.0 C1346.5,550.2 1360.0,546.2 1371.0,543.0 C1382.0,539.8 1388.9,538.7 1400.0,535.0 C1411.1,531.3 1421.8,525.8 1437.5,520.8 C1453.2,515.8 1475.2,510.1 1494.0,505.0 C1512.8,499.9 1531.3,495.2 1550.0,490.0 C1568.7,484.8 1590.3,478.2 1606.0,474.0 C1621.7,469.8 1631.5,468.3 1644.0,464.5 C1656.5,460.7 1665.4,455.6 1681.0,451.0 C1696.6,446.4 1721.8,441.0 1737.5,436.8 C1753.2,432.5 1759.4,429.5 1775.0,425.5 C1790.6,421.5 1812.2,417.2 1831.0,413.0 C1849.8,408.8 1868.7,404.3 1887.5,400.0 C1906.3,395.7 1928.4,390.8 1944.0,387.0 C1959.6,383.2 1968.5,380.7 1981.0,377.5 C1993.5,374.3 2006.5,370.4 2019.0,368.0 C2031.5,365.6 2043.5,364.2 2056.0,363.0 C2068.5,361.8 2084.6,361.3 2094.0,361.0 C2103.4,360.7 2103.2,360.5 2112.5,361.0 C2121.8,361.5 2137.5,363.0 2150.0,364.0 C2162.5,365.0 2175.0,366.2 2187.5,367.0 C2200.0,367.8 2212.5,368.7 2225.0,369.0 C2237.5,369.3 2250.0,368.8 2262.5,369.0 C2275.0,369.2 2286.9,369.6 2300.0,370.0 C2313.1,370.4 2334.2,371.2 2341.0,371.5" fill="none" stroke="#ffffff" stroke-opacity="0.05" stroke-width="2" stroke-linejoin="round"/>
<path d="M1.5,468.0 C4.4,469.5 12.4,474.0 19.0,477.0 C25.6,480.0 33.8,483.5 41.0,486.0 C48.2,488.5 54.2,488.8 62.5,492.0 C70.8,495.2 83.2,500.8 91.0,505.0 C98.8,509.2 102.3,513.1 109.0,517.5 C115.7,521.9 124.2,526.6 131.0,531.5 C137.8,536.4 144.2,542.1 150.0,547.0 C155.8,551.9 159.8,556.0 166.0,561.0 C172.2,566.0 178.7,570.7 187.5,577.0 C196.3,583.3 210.1,593.0 219.0,599.0 C227.9,605.0 233.2,607.6 241.0,613.0 C248.8,618.4 257.2,625.5 266.0,631.5 C274.8,637.5 284.2,643.8 294.0,649.0 C303.8,654.2 314.2,658.5 325.0,663.0 C335.8,667.5 348.0,673.4 359.0,676.0 C370.0,678.6 380.5,677.2 391.0,678.4 C401.5,679.6 414.2,681.7 422.0,683.0 C429.8,684.3 432.3,685.3 437.5,686.0 C442.7,686.7 447.6,687.2 453.0,687.0 C458.4,686.8 463.2,684.2 470.0,684.5 C476.8,684.8 483.7,687.0 494.0,688.8 C504.3,690.5 520.3,692.8 532.0,695.0 C543.7,697.2 555.6,700.6 564.0,702.0 C572.4,703.4 576.3,703.5 582.5,703.4 C588.7,703.3 593.5,703.0 601.0,701.5 C608.5,700.0 618.1,695.1 627.5,694.4 C636.9,693.6 649.4,696.9 657.5,697.0 C665.6,697.1 669.8,695.0 676.0,695.0 C682.2,695.0 687.2,696.3 695.0,697.0 C702.8,697.7 715.2,699.1 723.0,699.4 C730.8,699.7 734.2,699.7 742.0,699.0 C749.8,698.3 760.7,696.2 770.0,695.0 C779.3,693.8 788.7,692.7 798.0,692.0 C807.3,691.3 818.2,691.4 826.0,690.6 C833.8,689.8 835.6,688.9 845.0,687.0 C854.4,685.1 870.0,681.8 882.5,679.4 C895.0,677.0 910.4,674.2 920.0,672.8 C929.6,671.4 930.4,671.8 940.0,671.0 C949.6,670.2 966.0,669.0 977.5,667.8 C989.0,666.6 1000.2,664.8 1009.0,664.0 C1017.8,663.2 1024.0,664.4 1030.0,663.0 C1036.0,661.6 1036.5,659.2 1045.0,655.6 C1053.5,652.0 1068.8,647.0 1081.0,641.5 C1093.2,636.0 1105.5,629.2 1118.0,622.8 C1130.5,616.4 1145.0,609.9 1156.0,603.0 C1167.0,596.1 1176.2,587.2 1184.0,581.6 C1191.8,576.0 1196.3,573.0 1202.5,569.4 C1208.7,565.8 1211.6,563.6 1221.0,560.0 C1230.4,556.4 1246.5,552.3 1259.0,547.8 C1271.5,543.3 1286.7,537.0 1296.0,532.8 C1305.3,528.6 1308.7,526.7 1315.0,522.5 C1321.3,518.3 1327.8,512.4 1334.0,507.5 C1340.2,502.6 1346.3,498.0 1352.5,493.4 C1358.7,488.8 1364.8,484.6 1371.0,480.0 C1377.2,475.4 1384.2,470.5 1390.0,466.0 C1395.8,461.5 1400.8,457.5 1405.6,453.0 C1410.4,448.5 1414.3,443.2 1419.0,439.0 C1423.7,434.8 1426.8,433.7 1434.0,427.8 C1441.2,421.9 1452.7,411.7 1462.0,403.4 C1471.3,395.1 1481.6,384.3 1490.0,378.0 C1498.4,371.7 1504.3,370.2 1512.5,365.5 C1520.7,360.8 1529.8,354.3 1539.0,350.0 C1548.2,345.7 1558.1,344.4 1567.5,339.7 C1576.9,335.0 1586.2,328.0 1595.6,321.9 C1605.0,315.8 1613.1,309.3 1624.0,303.0 C1634.9,296.7 1651.7,289.0 1661.0,284.0 C1670.3,279.0 1673.7,276.8 1680.0,273.0 C1686.3,269.2 1691.2,265.7 1699.0,261.0 C1706.8,256.3 1719.2,249.4 1727.0,245.0 C1734.8,240.6 1739.4,238.3 1745.6,234.7 C1751.8,231.1 1757.8,226.8 1764.0,223.4 C1770.2,220.0 1775.2,215.9 1783.0,214.0 C1790.8,212.1 1803.2,212.7 1811.0,212.0 C1818.8,211.3 1823.7,210.8 1830.0,210.0 C1836.3,209.2 1843.3,208.4 1849.0,207.5 C1854.7,206.6 1857.7,204.5 1864.0,204.7 C1870.3,204.8 1880.3,207.8 1887.0,208.4 C1893.7,209.0 1896.2,209.2 1904.0,208.4 C1911.8,207.6 1925.9,205.4 1934.0,203.8 C1942.1,202.1 1946.3,200.4 1952.5,198.5 C1958.7,196.6 1964.8,194.0 1971.0,192.5 C1977.2,191.0 1983.7,190.8 1990.0,189.7 C1996.3,188.6 2002.8,187.2 2009.0,186.0 C2015.2,184.8 2021.3,182.9 2027.5,182.8 C2033.7,182.6 2039.8,184.3 2046.0,185.0 C2052.2,185.7 2058.7,185.9 2065.0,187.0 C2071.3,188.1 2077.8,190.1 2084.0,191.6 C2090.2,193.1 2097.2,194.8 2102.5,196.2 C2107.8,197.7 2109.3,197.0 2115.6,200.0 C2121.8,203.0 2132.8,209.6 2140.0,214.0 C2147.2,218.4 2152.8,222.7 2159.0,226.2 C2165.2,229.8 2171.3,232.0 2177.5,235.6 C2183.7,239.2 2189.8,244.4 2196.0,247.8 C2202.2,251.2 2208.7,253.0 2215.0,256.2 C2221.3,259.5 2227.8,264.4 2234.0,267.5 C2240.2,270.6 2246.3,272.8 2252.5,275.0 C2258.7,277.2 2264.8,278.6 2271.0,280.6 C2277.2,282.6 2283.7,284.6 2290.0,287.0 C2296.3,289.4 2304.0,292.8 2309.0,294.7 C2314.0,296.6 2314.7,295.9 2320.0,298.4 C2325.3,300.9 2337.5,307.8 2341.0,309.7" fill="none" stroke="#ffffff" stroke-opacity="0.05" stroke-width="2" stroke-linejoin="round"/>
<line x1="2" y1="415" x2="2438" y2="415" stroke="#8c8c8c" stroke-width="2" stroke-dasharray="2 4"/>
<rect x="2" y="920" width="2556" height="2" fill="#2c2c2c" shape-rendering="crispEdges"/>
<line x1="2" y1="1051.0" x2="2434" y2="1051.0" stroke="#bdbdbd" stroke-width="2.5" stroke-dasharray="10.5 11.5"/>
<line x1="2" y1="1319.0" x2="2434" y2="1319.0" stroke="#bdbdbd" stroke-width="2.5" stroke-dasharray="10.5 11.5"/>
<path d="M-2.6,1283.0 L7.2,1250.0 L16.5,1238.8 L25.7,1212.5 L35.0,1201.2 L44.3,1192.0 L53.6,1182.0 L62.9,1164.5 L72.2,1221.2 L81.5,1192.0 L90.8,1198.8 L100.1,1247.0 L109.4,1231.2 L118.7,1244.5 L128.0,1262.5 L137.3,1208.8 L146.6,1255.0 L155.9,1283.0 L165.2,1255.0 L174.5,1220.0 L183.8,1203.0 L193.1,1198.8 L202.4,1234.5 L211.7,1245.5 L221.0,1248.0 L230.3,1219.2 L239.6,1227.0 L248.9,1213.0 L258.2,1208.8 L267.5,1206.2 L276.8,1201.2 L286.1,1196.2 L295.4,1198.8 L304.7,1173.0 L314.0,1177.0 L323.3,1148.0 L332.6,1145.0 L341.9,1125.8 L351.2,1143.0 L360.5,1155.5 L369.8,1206.2 L379.1,1212.5 L388.4,1225.0 L397.7,1235.0 L407.0,1192.0 L416.3,1188.8 L425.6,1180.5 L434.8,1187.0 L444.1,1162.5 L453.4,1118.0 L462.7,1157.0 L472.0,1155.0 L481.3,1185.5 L490.6,1170.0 L499.9,1155.5 L509.2,1136.8 L518.5,1170.0 L527.8,1176.2 L537.1,1237.0 L546.4,1192.5 L555.7,1226.2 L565.0,1244.5 L574.3,1258.8 L583.6,1190.0 L592.9,1140.0 L602.2,1150.4 L611.5,1138.0 L620.8,1164.4 L630.1,1184.1 L639.4,1191.2 L648.7,1260.8 L658.0,1241.2 L667.3,1202.5 L676.6,1212.5 L685.9,1243.2 L695.2,1268.0 L704.5,1241.2 L713.8,1237.5 L723.1,1215.0 L732.4,1171.2 L741.7,1157.5 L751.0,1120.8 L760.3,1127.5 L769.6,1112.5 L778.9,1100.8 L788.2,1113.0 L797.5,1094.5 L806.8,1145.0 L816.1,1128.8 L825.4,1132.0 L834.7,1145.5 L843.9,1125.8 L853.2,1122.5 L862.5,1142.0 L871.8,1130.0 L881.1,1120.0 L890.4,1121.2 L899.7,1104.5 L909.0,1147.5 L918.3,1094.5 L927.6,1142.5 L936.9,1173.8 L946.2,1174.2 L955.5,1167.0 L964.8,1160.0 L974.1,1166.2 L983.4,1187.0 L992.7,1177.0 L1002.0,1195.0 L1011.3,1255.5 L1020.6,1211.2 L1029.9,1197.5 L1039.2,1122.5 L1048.5,1053.8 L1057.8,1061.2 L1067.1,1041.2 L1076.4,1061.2 L1085.7,1059.5 L1095.0,1056.2 L1104.3,1067.0 L1113.6,1128.0 L1122.9,1133.8 L1132.2,1126.2 L1141.5,1120.8 L1150.8,1128.0 L1160.1,1105.0 L1169.4,1076.2 L1178.7,1070.0 L1188.0,1055.0 L1197.3,1052.0 L1206.6,1053.0 L1215.9,1046.6 L1225.2,1090.6 L1234.5,1145.8 L1243.8,1136.2 L1253.1,1138.8 L1262.3,1131.2 L1271.6,1112.5 L1280.9,1096.2 L1290.2,1087.5 L1299.5,1081.2 L1308.8,1052.5 L1318.1,995.0 L1327.4,970.5 L1336.7,974.5 L1346.0,1013.8 L1355.3,1020.0 L1364.6,1007.0 L1373.9,1020.0 L1383.2,1059.5 L1392.5,1010.0 L1401.8,1001.2 L1411.1,968.0 L1420.4,982.0 L1429.7,1010.0 L1439.0,1086.2 L1448.3,1109.5 L1457.6,1098.2 L1466.9,1128.8 L1476.2,1147.5 L1485.5,1188.8 L1494.8,1219.5 L1504.1,1170.0 L1513.4,1146.2 L1522.7,1135.0 L1532.0,1104.5 L1541.3,1148.8 L1550.6,1155.5 L1559.9,1152.5 L1569.2,1134.5 L1578.5,1127.0 L1587.8,1135.5 L1597.1,1119.5 L1606.4,1114.2 L1615.7,1121.2 L1625.0,1127.0 L1634.3,1155.0 L1643.6,1136.2 L1652.9,1152.0 L1662.2,1086.2 L1671.4,1058.8 L1680.7,1106.2 L1690.0,1128.8 L1699.3,1128.8 L1708.6,1147.0 L1717.9,1122.5 L1727.2,1150.0 L1736.5,1181.2 L1745.8,1191.2 L1755.1,1125.0 L1764.4,1125.0 L1773.7,1147.5 L1783.0,1134.5 L1792.3,1200.0 L1801.6,1225.6 L1810.9,1235.5 L1820.2,1211.2 L1829.5,1186.9 L1838.8,1221.6 L1848.1,1177.0 L1857.4,1202.0 L1866.7,1145.0 L1876.0,1172.5 L1885.3,1193.0 L1894.6,1175.0 L1903.9,1180.0 L1913.2,1147.5 L1922.5,1153.8 L1931.8,1148.8 L1941.1,1158.8 L1950.4,1170.0 L1959.7,1133.0 L1969.0,1150.0 L1978.3,1151.2 L1987.6,1163.0 L1996.9,1103.0 L2006.2,1152.0 L2015.5,1191.2 L2024.8,1184.5 L2034.1,1245.0 L2043.4,1265.0 L2052.7,1228.8 L2062.0,1246.2 L2071.3,1252.5 L2080.5,1291.2 L2089.8,1297.0 L2099.1,1265.0 L2108.4,1286.2 L2117.7,1317.0 L2127.0,1325.0 L2136.3,1337.0 L2145.6,1343.0 L2154.9,1342.5 L2164.2,1298.8 L2173.5,1305.5 L2182.8,1337.0 L2192.1,1320.0 L2201.4,1247.5 L2210.7,1221.2 L2220.0,1236.2 L2229.3,1245.5 L2238.6,1237.5 L2247.9,1170.5 L2257.2,1177.5 L2266.5,1215.5 L2275.8,1203.8 L2285.1,1184.5 L2294.4,1203.5 L2303.7,1227.5 L2313.0,1180.5 L2322.3,1203.5 L2331.6,1232.5 L2340.9,1222.5" fill="none" stroke="#393939" stroke-width="2" stroke-linejoin="round"/>
<g font-family="Liberation Sans, sans-serif" font-size="26" fill="#b4b4b4" letter-spacing="0.45">
<text x="2455" y="838.3">128.00</text>
<text x="2455" y="748.3">132.00</text>
<text x="2455" y="658.3">136.00</text>
<text x="2455" y="566.3">140.00</text>
<text x="2455" y="476.3">144.00</text>
<text x="2455" y="386.3">148.00</text>
<text x="2455" y="296.3">152.00</text>
<text x="2455" y="206.3">156.00</text>
<text x="2455" y="116.3">160.00</text>
<text x="2455" y="26.3">164.00</text>
<text x="2454" y="990.4">80.00</text>
<text x="2454" y="1058.4">70.00</text>
<text x="2454" y="1124.4">60.00</text>
<text x="2454" y="1192.4">50.00</text>
<text x="2454" y="1260.4">40.00</text>
<text x="2454" y="1326.4">30.00</text>
</g>
<g font-family="Liberation Sans, sans-serif" font-size="24.5" letter-spacing="0.2" fill="#b4b4b4" text-anchor="middle">
<text x="72" y="1420">May</text>
<text x="266" y="1420">Jun</text>
<text x="452" y="1420">Jul</text>
<text x="658" y="1420">Aug</text>
<text x="852" y="1420">Sep</text>
<text x="1048" y="1420">Oct</text>
<text x="1262" y="1420">Nov</text>
<text x="1438" y="1420">Dec</text>
<text x="1644" y="1420" font-weight="bold" font-size="25.5" letter-spacing="2.3" fill="#c8c8c8">2026</text>
<text x="1830" y="1420">Feb</text>
<text x="2006" y="1420">Mar</text>
<text x="2210" y="1420">Apr</text>
<text x="2406" y="1420">May</text>
</g>
<path d="M2440,292 h104 a4,4 0 0 1 4,4 v26 a4,4 0 0 1 -4,4 h-104 z" fill="#787878"/>
<text x="2456" y="318.3" font-family="Liberation Sans, sans-serif" font-size="26" letter-spacing="0.3" fill="#f2f2f2">151.07</text>
<path d="M2440,330 h104 a4,4 0 0 1 4,4 v26 a4,4 0 0 1 -4,4 h-104 z" fill="#6f6f6f"/>
<text x="2456" y="356.3" font-family="Liberation Sans, sans-serif" font-size="26" letter-spacing="0.3" fill="#f2f2f2">148.31</text>
<path d="M2440,364 h104 a4,4 0 0 1 4,4 v26 a4,4 0 0 1 -4,4 h-104 z" fill="#636363"/>
<text x="2456" y="390.3" font-family="Liberation Sans, sans-serif" font-size="26" letter-spacing="0.3" fill="#f2f2f2">146.38</text>
<path d="M2440,398 h104 a4,4 0 0 1 4,4 v26 a4,4 0 0 1 -4,4 h-104 z" fill="#6b6b6b"/>
<text x="2456" y="424.3" font-family="Liberation Sans, sans-serif" font-size="26" letter-spacing="0.3" fill="#f2f2f2">146.38</text>
<path d="M2438,364 h-64 a4,4 0 0 0 -4,4 v26 a4,4 0 0 0 4,4 h64 z" fill="#696969"/>
<text x="2380" y="390.3" font-family="Liberation Sans, sans-serif" font-size="26" letter-spacing="-0.5" fill="#f2f2f2">Post</text>
<path d="M2440,830 h98 a4,4 0 0 1 4,4 v26 a4,4 0 0 1 -4,4 h-98 z" fill="#696969"/>
<text x="2455" y="856.3" font-family="Liberation Sans, sans-serif" font-size="26" letter-spacing="-0.1" fill="#f2f2f2">8.31&#8201;M</text>
<path d="M2440,1206 h88 a4,4 0 0 1 4,4 v26 a4,4 0 0 1 -4,4 h-88 z" fill="#363636"/>
<text x="2455" y="1232.3" font-family="Liberation Sans, sans-serif" font-size="26" letter-spacing="0.3" fill="#f2f2f2">44.26</text>
<circle cx="61" cy="1318" r="33" fill="#0f0f0f" stroke="#3a3a3a" stroke-width="2"/>
<g fill="#fff"><path d="M39.8,1307.8 H58.2 V1330.3 H49.75 V1316.3 H39.8 Z M71.3,1307.8 H83.3 L74.55,1330.3 H64.05 Z"/><circle cx="63.75" cy="1311.9" r="3.3"/></g>
<polygon points="2512.8,1410.8 2505.9,1422.7 2492.2,1422.7 2485.4,1410.8 2492.2,1398.9 2505.9,1398.9" fill="none" stroke="#b4b4b4" stroke-width="2.2" stroke-linejoin="round"/>
<circle cx="2499.05" cy="1410.8" r="3.7" fill="none" stroke="#b4b4b4" stroke-width="2.2"/>
<rect x="1" y="1" width="2558" height="1438" rx="4" ry="4" fill="none" stroke="#3d3d3d" stroke-width="2"/>
</g>
</svg></body></html>
